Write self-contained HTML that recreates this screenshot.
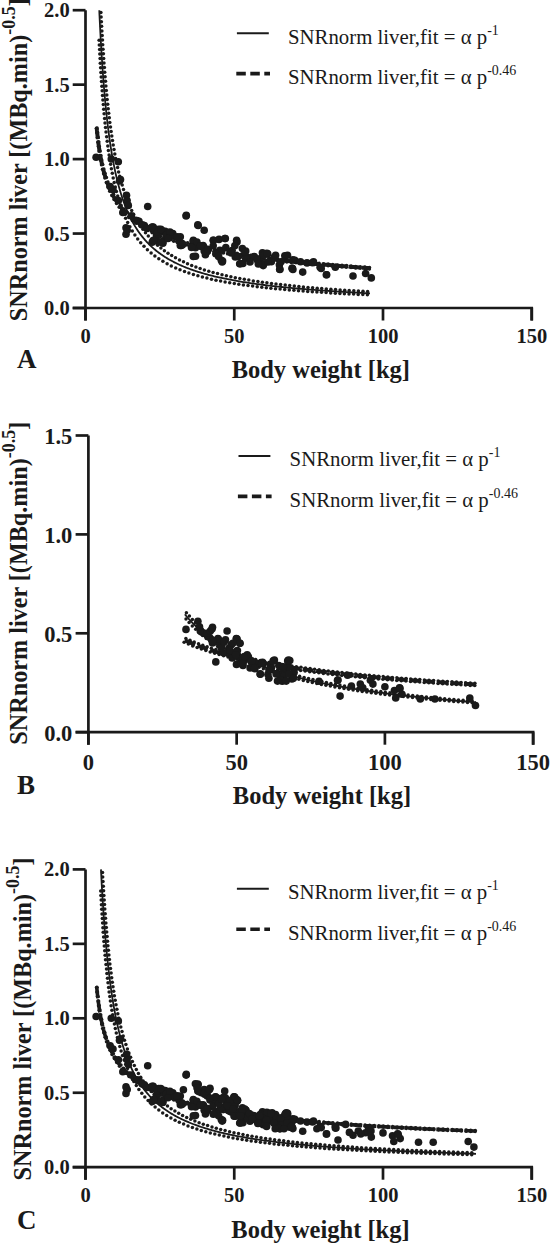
<!DOCTYPE html>
<html><head><meta charset="utf-8"><style>
html,body{margin:0;padding:0;background:#fff;}
body{width:554px;height:1244px;overflow:hidden;}
svg{display:block;}
text{font-family:"Liberation Serif", serif;fill:#1a1a1a;}
.tk{font-size:20.5px;font-weight:bold;}
.al{font-size:24.5px;font-weight:bold;}
.yl{font-size:24.2px;font-weight:bold;}
.sup{font-size:18px;}
.pl{font-size:27px;font-weight:bold;}
.tkb{font-size:22.5px;font-weight:bold;}
.lg{font-size:20.8px;}
.lsup{font-size:14px;}
</style></head><body>
<svg width="554" height="1244" viewBox="0 0 554 1244">
<path d="M85.50 10.20V320.50M72.70 308.00H531.75V320.50" stroke="#1a1a1a" stroke-width="2.7" fill="none"/>
<path d="M72.70 308.00H85.50" stroke="#1a1a1a" stroke-width="2.7"/>
<text x="69.70" y="315.00" text-anchor="end" class="tk">0.0</text>
<path d="M72.70 233.55H85.50" stroke="#1a1a1a" stroke-width="2.7"/>
<text x="69.70" y="240.55" text-anchor="end" class="tk">0.5</text>
<path d="M72.70 159.10H85.50" stroke="#1a1a1a" stroke-width="2.7"/>
<text x="69.70" y="166.10" text-anchor="end" class="tk">1.0</text>
<path d="M72.70 84.65H85.50" stroke="#1a1a1a" stroke-width="2.7"/>
<text x="69.70" y="91.65" text-anchor="end" class="tk">1.5</text>
<path d="M72.70 10.20H85.50" stroke="#1a1a1a" stroke-width="2.7"/>
<text x="69.70" y="17.20" text-anchor="end" class="tk">2.0</text>
<path d="M85.50 308.00V320.50" stroke="#1a1a1a" stroke-width="2.7"/>
<text x="85.50" y="343.00" text-anchor="middle" class="tk">0</text>
<path d="M234.25 308.00V320.50" stroke="#1a1a1a" stroke-width="2.7"/>
<text x="234.25" y="343.00" text-anchor="middle" class="tk">50</text>
<path d="M383.00 308.00V320.50" stroke="#1a1a1a" stroke-width="2.7"/>
<text x="383.00" y="343.00" text-anchor="middle" class="tk">100</text>
<path d="M531.75 308.00V320.50" stroke="#1a1a1a" stroke-width="2.7"/>
<text x="531.75" y="343.00" text-anchor="middle" class="tk">150</text>
<text x="320.80" y="378.20" text-anchor="middle" class="al">Body weight [kg]</text>
<text x="17" y="368.00" class="pl">A</text>
<text transform="translate(26.50 321.20) rotate(-90)" class="yl">SNRnorm liver [(MBq.min)<tspan class="sup" dy="-11.5">-0.5</tspan><tspan dy="11.5">]</tspan></text>
<path d="M236.90 33.20H268.80" stroke="#1a1a1a" stroke-width="2"/>
<path d="M236.30 73.60H270.00" stroke="#1a1a1a" stroke-width="3.6" stroke-dasharray="9.5 4.5"/>
<text x="288.00" y="43.50" class="lg">SNRnorm liver,fit = α p<tspan class="lsup" dy="-9">-1</tspan></text>
<text x="288.00" y="83.90" class="lg">SNRnorm liver,fit = α p<tspan class="lsup" dy="-9">-0.46</tspan></text>
<g fill="#1a1a1a"><circle cx="100.9" cy="12.5" r="1.75"/><circle cx="101.1" cy="17.1" r="1.75"/><circle cx="101.4" cy="21.7" r="1.75"/><circle cx="101.6" cy="26.3" r="1.75"/><circle cx="101.9" cy="30.9" r="1.75"/><circle cx="102.2" cy="35.5" r="1.75"/><circle cx="102.5" cy="40.1" r="1.75"/><circle cx="99.1" cy="40.3" r="1.75"/><circle cx="102.7" cy="44.7" r="1.75"/><circle cx="99.3" cy="44.9" r="1.75"/><circle cx="103.0" cy="49.2" r="1.75"/><circle cx="99.6" cy="49.5" r="1.75"/><circle cx="103.4" cy="53.8" r="1.75"/><circle cx="99.8" cy="54.0" r="1.75"/><circle cx="103.7" cy="58.4" r="1.75"/><circle cx="100.1" cy="58.6" r="1.75"/><circle cx="104.0" cy="63.0" r="1.75"/><circle cx="100.3" cy="63.2" r="1.75"/><circle cx="104.4" cy="67.6" r="1.75"/><circle cx="100.6" cy="67.8" r="1.75"/><circle cx="104.7" cy="72.2" r="1.75"/><circle cx="100.9" cy="72.4" r="1.75"/><circle cx="105.1" cy="76.7" r="1.75"/><circle cx="101.2" cy="77.0" r="1.75"/><circle cx="105.5" cy="81.3" r="1.75"/><circle cx="101.5" cy="81.6" r="1.75"/><circle cx="105.9" cy="85.9" r="1.75"/><circle cx="101.9" cy="86.2" r="1.75"/><circle cx="106.3" cy="90.5" r="1.75"/><circle cx="102.2" cy="90.8" r="1.75"/><circle cx="106.8" cy="95.0" r="1.75"/><circle cx="102.5" cy="95.4" r="1.75"/><circle cx="107.2" cy="99.6" r="1.75"/><circle cx="102.9" cy="100.0" r="1.75"/><circle cx="107.7" cy="104.2" r="1.75"/><circle cx="103.3" cy="104.6" r="1.75"/><circle cx="108.2" cy="108.7" r="1.75"/><circle cx="103.7" cy="109.2" r="1.75"/><circle cx="108.7" cy="113.3" r="1.75"/><circle cx="104.1" cy="113.8" r="1.75"/><circle cx="109.3" cy="117.8" r="1.75"/><circle cx="104.6" cy="118.4" r="1.75"/><circle cx="109.8" cy="122.4" r="1.75"/><circle cx="105.0" cy="123.0" r="1.75"/><circle cx="110.5" cy="126.9" r="1.75"/><circle cx="105.5" cy="127.6" r="1.75"/><circle cx="111.1" cy="131.5" r="1.75"/><circle cx="106.0" cy="132.1" r="1.75"/><circle cx="111.8" cy="136.0" r="1.75"/><circle cx="106.6" cy="136.7" r="1.75"/><circle cx="112.5" cy="140.5" r="1.75"/><circle cx="107.2" cy="141.3" r="1.75"/><circle cx="113.2" cy="145.1" r="1.75"/><circle cx="107.8" cy="145.9" r="1.75"/><circle cx="114.0" cy="149.6" r="1.75"/><circle cx="108.4" cy="150.5" r="1.75"/><circle cx="114.8" cy="154.1" r="1.75"/><circle cx="109.1" cy="155.0" r="1.75"/><circle cx="115.7" cy="158.6" r="1.75"/><circle cx="109.8" cy="159.6" r="1.75"/><circle cx="116.6" cy="163.0" r="1.75"/><circle cx="110.6" cy="164.2" r="1.75"/><circle cx="117.6" cy="167.5" r="1.75"/><circle cx="111.4" cy="168.8" r="1.75"/><circle cx="118.6" cy="171.9" r="1.75"/><circle cx="112.3" cy="173.3" r="1.75"/><circle cx="119.7" cy="176.3" r="1.75"/><circle cx="113.2" cy="177.9" r="1.75"/><circle cx="120.9" cy="180.7" r="1.75"/><circle cx="114.2" cy="182.4" r="1.75"/><circle cx="122.2" cy="185.1" r="1.75"/><circle cx="115.3" cy="187.0" r="1.75"/><circle cx="123.5" cy="189.4" r="1.75"/><circle cx="116.4" cy="191.5" r="1.75"/><circle cx="124.9" cy="193.7" r="1.75"/><circle cx="117.7" cy="196.0" r="1.75"/><circle cx="126.5" cy="198.0" r="1.75"/><circle cx="119.0" cy="200.5" r="1.75"/><circle cx="128.1" cy="202.2" r="1.75"/><circle cx="120.5" cy="205.0" r="1.75"/><circle cx="129.8" cy="206.3" r="1.75"/><circle cx="122.0" cy="209.4" r="1.75"/><circle cx="131.7" cy="210.4" r="1.75"/><circle cx="123.8" cy="213.8" r="1.75"/><circle cx="133.6" cy="214.3" r="1.75"/><circle cx="125.6" cy="218.2" r="1.75"/><circle cx="135.8" cy="218.2" r="1.75"/><circle cx="127.7" cy="222.5" r="1.75"/><circle cx="138.0" cy="222.1" r="1.75"/><circle cx="129.9" cy="226.8" r="1.75"/><circle cx="140.4" cy="225.8" r="1.75"/><circle cx="132.3" cy="230.9" r="1.75"/><circle cx="142.9" cy="229.3" r="1.75"/><circle cx="134.9" cy="235.0" r="1.75"/><circle cx="145.5" cy="232.8" r="1.75"/><circle cx="137.7" cy="238.9" r="1.75"/><circle cx="148.3" cy="236.1" r="1.75"/><circle cx="140.7" cy="242.7" r="1.75"/><circle cx="151.3" cy="239.3" r="1.75"/><circle cx="144.0" cy="246.3" r="1.75"/><circle cx="154.4" cy="242.4" r="1.75"/><circle cx="147.4" cy="249.7" r="1.75"/><circle cx="157.6" cy="245.3" r="1.75"/><circle cx="151.1" cy="252.9" r="1.75"/><circle cx="160.9" cy="248.1" r="1.75"/><circle cx="154.9" cy="255.9" r="1.75"/><circle cx="164.4" cy="250.7" r="1.75"/><circle cx="158.8" cy="258.7" r="1.75"/><circle cx="168.0" cy="253.2" r="1.75"/><circle cx="162.9" cy="261.3" r="1.75"/><circle cx="171.7" cy="255.6" r="1.75"/><circle cx="167.1" cy="263.7" r="1.75"/><circle cx="175.5" cy="257.8" r="1.75"/><circle cx="171.3" cy="265.9" r="1.75"/><circle cx="179.5" cy="259.9" r="1.75"/><circle cx="175.7" cy="267.9" r="1.75"/><circle cx="183.5" cy="261.8" r="1.75"/><circle cx="180.0" cy="269.7" r="1.75"/><circle cx="187.5" cy="263.7" r="1.75"/><circle cx="184.5" cy="271.4" r="1.75"/><circle cx="191.7" cy="265.4" r="1.75"/><circle cx="188.9" cy="273.0" r="1.75"/><circle cx="195.9" cy="267.0" r="1.75"/><circle cx="193.4" cy="274.4" r="1.75"/><circle cx="200.1" cy="268.5" r="1.75"/><circle cx="197.9" cy="275.7" r="1.75"/><circle cx="204.4" cy="269.9" r="1.75"/><circle cx="202.4" cy="277.0" r="1.75"/><circle cx="208.8" cy="271.2" r="1.75"/><circle cx="206.9" cy="278.1" r="1.75"/><circle cx="213.1" cy="272.5" r="1.75"/><circle cx="211.5" cy="279.2" r="1.75"/><circle cx="217.5" cy="273.6" r="1.75"/><circle cx="216.0" cy="280.2" r="1.75"/><circle cx="222.0" cy="274.7" r="1.75"/><circle cx="220.6" cy="281.1" r="1.75"/><circle cx="226.4" cy="275.8" r="1.75"/><circle cx="225.1" cy="281.9" r="1.75"/><circle cx="230.9" cy="276.7" r="1.75"/><circle cx="229.7" cy="282.7" r="1.75"/><circle cx="235.3" cy="277.7" r="1.75"/><circle cx="234.3" cy="283.5" r="1.75"/><circle cx="239.8" cy="278.5" r="1.75"/><circle cx="238.8" cy="284.2" r="1.75"/><circle cx="244.3" cy="279.3" r="1.75"/><circle cx="243.4" cy="284.9" r="1.75"/><circle cx="248.8" cy="280.1" r="1.75"/><circle cx="248.0" cy="285.5" r="1.75"/><circle cx="253.3" cy="280.9" r="1.75"/><circle cx="252.6" cy="286.1" r="1.75"/><circle cx="257.9" cy="281.6" r="1.75"/><circle cx="257.2" cy="286.7" r="1.75"/><circle cx="262.4" cy="282.2" r="1.75"/><circle cx="261.8" cy="287.2" r="1.75"/><circle cx="266.9" cy="282.8" r="1.75"/><circle cx="266.3" cy="287.8" r="1.75"/><circle cx="271.5" cy="283.4" r="1.75"/><circle cx="270.9" cy="288.2" r="1.75"/><circle cx="276.0" cy="284.0" r="1.75"/><circle cx="275.5" cy="288.7" r="1.75"/><circle cx="280.6" cy="284.6" r="1.75"/><circle cx="280.1" cy="289.1" r="1.75"/><circle cx="285.2" cy="285.1" r="1.75"/><circle cx="284.7" cy="289.6" r="1.75"/><circle cx="289.7" cy="285.6" r="1.75"/><circle cx="289.3" cy="290.0" r="1.75"/><circle cx="294.3" cy="286.1" r="1.75"/><circle cx="293.9" cy="290.3" r="1.75"/><circle cx="298.9" cy="286.5" r="1.75"/><circle cx="298.5" cy="290.7" r="1.75"/><circle cx="303.4" cy="287.0" r="1.75"/><circle cx="303.1" cy="291.1" r="1.75"/><circle cx="308.0" cy="287.4" r="1.75"/><circle cx="307.7" cy="291.4" r="1.75"/><circle cx="312.6" cy="287.8" r="1.75"/><circle cx="312.3" cy="291.7" r="1.75"/><circle cx="317.2" cy="288.2" r="1.75"/><circle cx="316.9" cy="292.0" r="1.75"/><circle cx="321.7" cy="288.5" r="1.75"/><circle cx="321.5" cy="292.3" r="1.75"/><circle cx="326.3" cy="288.9" r="1.75"/><circle cx="326.1" cy="292.6" r="1.75"/><circle cx="330.9" cy="289.2" r="1.75"/><circle cx="330.7" cy="292.9" r="1.75"/><circle cx="335.5" cy="289.6" r="1.75"/><circle cx="335.3" cy="293.2" r="1.75"/><circle cx="340.1" cy="289.9" r="1.75"/><circle cx="339.9" cy="293.4" r="1.75"/><circle cx="344.7" cy="290.2" r="1.75"/><circle cx="344.4" cy="293.7" r="1.75"/><circle cx="349.2" cy="290.5" r="1.75"/><circle cx="349.0" cy="293.9" r="1.75"/><circle cx="353.8" cy="290.8" r="1.75"/><circle cx="353.6" cy="294.1" r="1.75"/><circle cx="358.4" cy="291.1" r="1.75"/><circle cx="358.2" cy="294.4" r="1.75"/><circle cx="363.0" cy="291.3" r="1.75"/><circle cx="362.8" cy="294.6" r="1.75"/><circle cx="367.6" cy="291.6" r="1.75"/><circle cx="367.4" cy="294.8" r="1.75"/></g>
<path d="M99.27 10.20L99.32 11.21L99.52 15.63L99.73 20.05L99.95 24.45L100.17 28.84L100.40 33.21L100.63 37.56L100.87 41.88L101.12 46.17L101.37 50.42L101.63 54.63L101.89 58.80L102.17 62.93L102.44 67.01L102.73 71.04L103.01 75.03L103.31 78.95L103.61 82.83L103.92 86.65L104.23 90.42L104.55 94.12L104.88 97.77L105.21 101.37L105.55 104.90L105.89 108.37L106.24 111.79L106.60 115.15L106.96 118.45L107.33 121.69L107.70 124.87L108.08 127.99L108.47 131.06L108.86 134.06L109.26 137.02L109.67 139.91L110.08 142.75L110.49 145.54L110.92 148.27L111.35 150.95L111.78 153.57L112.22 156.15L112.67 158.67L113.12 161.14L113.58 163.57L114.05 165.94L114.52 168.27L115.00 170.55L115.48 172.78L115.97 174.97L116.47 177.12L116.97 179.22L117.48 181.28L118.00 183.30L118.52 185.27L119.04 187.21L119.58 189.11L120.12 190.97L120.66 192.79L121.21 194.58L121.77 196.32L122.33 198.04L122.90 199.72L123.48 201.36L124.06 202.98L124.65 204.56L125.24 206.11L125.84 207.63L126.44 209.11L127.06 210.57L127.67 212.00L128.30 213.41L128.93 214.78L129.56 216.13L130.21 217.45L130.86 218.74L131.51 220.01L132.17 221.26L132.84 222.48L133.51 223.68L134.19 224.85L134.87 226.01L135.57 227.14L136.26 228.25L136.97 229.34L137.68 230.40L138.39 231.45L139.11 232.48L139.84 233.49L140.57 234.48L141.31 235.45L142.06 236.41L142.81 237.34L143.57 238.26L144.33 239.16L145.10 240.05L145.88 240.92L146.66 241.78L147.45 242.62L148.25 243.44L149.05 244.25L149.85 245.04L150.67 245.83L151.49 246.59L152.31 247.35L153.14 248.09L153.98 248.82L154.82 249.53L155.67 250.24L156.53 250.93L157.39 251.61L158.26 252.28L159.13 252.93L160.01 253.58L160.90 254.21L161.79 254.84L162.69 255.45L163.59 256.06L164.50 256.65L165.42 257.23L166.34 257.81L167.27 258.37L168.20 258.93L169.14 259.48L170.09 260.01L171.04 260.54L172.00 261.06L172.97 261.58L173.94 262.08L174.92 262.58L175.90 263.07L176.89 263.55L177.88 264.02L178.89 264.49L179.89 264.95L180.91 265.40L181.93 265.85L182.95 266.28L183.98 266.72L185.02 267.14L186.07 267.56L187.12 267.97L188.17 268.38L189.24 268.78L190.30 269.18L191.38 269.56L192.46 269.95L193.55 270.33L194.64 270.70L195.74 271.06L196.84 271.43L197.96 271.78L199.07 272.13L200.20 272.48L201.33 272.82L202.46 273.16L203.60 273.49L204.75 273.81L205.90 274.14L207.06 274.45L208.23 274.77L209.40 275.08L210.58 275.38L211.77 275.68L212.96 275.98L214.15 276.27L215.35 276.56L216.56 276.85L217.78 277.13L219.00 277.40L220.23 277.68L221.46 277.95L222.70 278.21L223.94 278.48L225.19 278.74L226.45 278.99L227.71 279.24L228.98 279.49L230.26 279.74L231.54 279.98L232.83 280.22L234.12 280.46L235.42 280.69L236.73 280.92L238.04 281.15L239.36 281.38L240.68 281.60L242.01 281.82L243.35 282.03L244.69 282.25L246.04 282.46L247.40 282.67L248.76 282.88L250.12 283.08L251.50 283.28L252.88 283.48L254.26 283.68L255.65 283.87L257.05 284.06L258.45 284.25L259.86 284.44L261.28 284.62L262.70 284.81L264.13 284.99L265.56 285.16L267.00 285.34L268.45 285.52L269.90 285.69L271.36 285.86L272.82 286.03L274.29 286.19L275.77 286.36L277.25 286.52L278.74 286.68L280.24 286.84L281.74 287.00L283.25 287.15L284.76 287.31L286.28 287.46L287.80 287.61L289.33 287.76L290.87 287.90L292.42 288.05L293.96 288.19L295.52 288.34L297.08 288.48L298.65 288.62L300.22 288.75L301.80 288.89L303.39 289.02L304.98 289.16L306.58 289.29L308.19 289.42L309.80 289.55L311.41 289.68L313.04 289.80L314.66 289.93L316.30 290.05L317.94 290.17L319.59 290.29L321.24 290.41L322.90 290.53L324.56 290.65L326.24 290.77L327.91 290.88L329.60 290.99L331.29 291.11L332.98 291.22L334.68 291.33L336.39 291.44L338.11 291.55L339.83 291.65L341.55 291.76L343.28 291.86L345.02 291.97L346.77 292.07L348.52 292.17L350.28 292.27L352.04 292.37L353.81 292.47L355.58 292.57L357.36 292.67L359.15 292.76L360.94 292.86L362.74 292.95L364.55 293.05L366.36 293.14L368.18 293.23L370.00 293.32" stroke="#1a1a1a" stroke-width="1.8" fill="none"/>
<g fill="#1a1a1a"><circle cx="97.1" cy="128.1" r="1.75"/><circle cx="96.4" cy="128.2" r="1.75"/><circle cx="97.6" cy="132.7" r="1.75"/><circle cx="96.8" cy="132.8" r="1.75"/><circle cx="98.1" cy="137.3" r="1.75"/><circle cx="97.3" cy="137.4" r="1.75"/><circle cx="98.7" cy="141.8" r="1.75"/><circle cx="97.8" cy="141.9" r="1.75"/><circle cx="99.3" cy="146.4" r="1.75"/><circle cx="98.4" cy="146.5" r="1.75"/><circle cx="100.0" cy="150.9" r="1.75"/><circle cx="99.1" cy="151.1" r="1.75"/><circle cx="100.8" cy="155.4" r="1.75"/><circle cx="99.8" cy="155.6" r="1.75"/><circle cx="101.7" cy="159.9" r="1.75"/><circle cx="100.6" cy="160.2" r="1.75"/><circle cx="102.7" cy="164.4" r="1.75"/><circle cx="101.5" cy="164.7" r="1.75"/><circle cx="103.8" cy="168.9" r="1.75"/><circle cx="102.5" cy="169.2" r="1.75"/><circle cx="105.0" cy="173.3" r="1.75"/><circle cx="103.6" cy="173.7" r="1.75"/><circle cx="106.4" cy="177.6" r="1.75"/><circle cx="104.9" cy="178.1" r="1.75"/><circle cx="107.9" cy="181.9" r="1.75"/><circle cx="106.3" cy="182.5" r="1.75"/><circle cx="109.6" cy="186.2" r="1.75"/><circle cx="107.9" cy="186.9" r="1.75"/><circle cx="111.5" cy="190.3" r="1.75"/><circle cx="109.7" cy="191.2" r="1.75"/><circle cx="113.6" cy="194.3" r="1.75"/><circle cx="111.8" cy="195.4" r="1.75"/><circle cx="115.9" cy="198.3" r="1.75"/><circle cx="114.0" cy="199.4" r="1.75"/><circle cx="118.5" cy="202.0" r="1.75"/><circle cx="116.5" cy="203.4" r="1.75"/><circle cx="121.2" cy="205.6" r="1.75"/><circle cx="119.2" cy="207.2" r="1.75"/><circle cx="124.1" cy="209.1" r="1.75"/><circle cx="122.2" cy="210.8" r="1.75"/><circle cx="127.3" cy="212.3" r="1.75"/><circle cx="125.4" cy="214.2" r="1.75"/><circle cx="130.6" cy="215.4" r="1.75"/><circle cx="128.8" cy="217.5" r="1.75"/><circle cx="134.1" cy="218.3" r="1.75"/><circle cx="132.3" cy="220.5" r="1.75"/><circle cx="137.7" cy="221.0" r="1.75"/><circle cx="136.1" cy="223.3" r="1.75"/><circle cx="141.4" cy="223.5" r="1.75"/><circle cx="139.9" cy="225.9" r="1.75"/><circle cx="145.3" cy="225.9" r="1.75"/><circle cx="143.9" cy="228.3" r="1.75"/><circle cx="149.3" cy="228.1" r="1.75"/><circle cx="148.0" cy="230.6" r="1.75"/><circle cx="153.3" cy="230.2" r="1.75"/><circle cx="152.1" cy="232.7" r="1.75"/><circle cx="157.5" cy="232.1" r="1.75"/><circle cx="156.3" cy="234.6" r="1.75"/><circle cx="161.6" cy="233.9" r="1.75"/><circle cx="160.6" cy="236.4" r="1.75"/><circle cx="165.9" cy="235.6" r="1.75"/><circle cx="164.9" cy="238.1" r="1.75"/><circle cx="170.2" cy="237.2" r="1.75"/><circle cx="169.3" cy="239.7" r="1.75"/><circle cx="174.5" cy="238.7" r="1.75"/><circle cx="173.7" cy="241.2" r="1.75"/><circle cx="178.8" cy="240.2" r="1.75"/><circle cx="178.1" cy="242.6" r="1.75"/><circle cx="183.2" cy="241.5" r="1.75"/><circle cx="182.5" cy="243.9" r="1.75"/><circle cx="187.6" cy="242.8" r="1.75"/><circle cx="187.0" cy="245.1" r="1.75"/><circle cx="192.0" cy="244.0" r="1.75"/><circle cx="191.4" cy="246.3" r="1.75"/><circle cx="196.5" cy="245.1" r="1.75"/><circle cx="195.9" cy="247.4" r="1.75"/><circle cx="200.9" cy="246.2" r="1.75"/><circle cx="200.4" cy="248.5" r="1.75"/><circle cx="205.4" cy="247.2" r="1.75"/><circle cx="204.9" cy="249.5" r="1.75"/><circle cx="209.9" cy="248.2" r="1.75"/><circle cx="209.4" cy="250.4" r="1.75"/><circle cx="214.4" cy="249.1" r="1.75"/><circle cx="213.9" cy="251.3" r="1.75"/><circle cx="218.9" cy="250.0" r="1.75"/><circle cx="218.5" cy="252.2" r="1.75"/><circle cx="223.4" cy="250.9" r="1.75"/><circle cx="223.0" cy="253.0" r="1.75"/><circle cx="227.9" cy="251.7" r="1.75"/><circle cx="227.5" cy="253.8" r="1.75"/><circle cx="232.4" cy="252.5" r="1.75"/><circle cx="232.1" cy="254.6" r="1.75"/><circle cx="237.0" cy="253.2" r="1.75"/><circle cx="236.6" cy="255.3" r="1.75"/><circle cx="241.5" cy="254.0" r="1.75"/><circle cx="241.2" cy="256.0" r="1.75"/><circle cx="246.0" cy="254.7" r="1.75"/><circle cx="245.7" cy="256.7" r="1.75"/><circle cx="250.6" cy="255.3" r="1.75"/><circle cx="250.3" cy="257.4" r="1.75"/><circle cx="255.1" cy="256.0" r="1.75"/><circle cx="254.8" cy="258.0" r="1.75"/><circle cx="259.7" cy="256.6" r="1.75"/><circle cx="259.4" cy="258.6" r="1.75"/><circle cx="264.2" cy="257.2" r="1.75"/><circle cx="264.0" cy="259.2" r="1.75"/><circle cx="268.8" cy="257.8" r="1.75"/><circle cx="268.5" cy="259.8" r="1.75"/><circle cx="273.4" cy="258.4" r="1.75"/><circle cx="273.1" cy="260.3" r="1.75"/><circle cx="277.9" cy="259.0" r="1.75"/><circle cx="277.7" cy="260.9" r="1.75"/><circle cx="282.5" cy="259.5" r="1.75"/><circle cx="282.3" cy="261.4" r="1.75"/><circle cx="287.0" cy="260.0" r="1.75"/><circle cx="286.8" cy="261.9" r="1.75"/><circle cx="291.6" cy="260.5" r="1.75"/><circle cx="291.4" cy="262.4" r="1.75"/><circle cx="296.2" cy="261.0" r="1.75"/><circle cx="296.0" cy="262.8" r="1.75"/><circle cx="300.8" cy="261.5" r="1.75"/><circle cx="300.6" cy="263.3" r="1.75"/><circle cx="305.3" cy="262.0" r="1.75"/><circle cx="305.2" cy="263.7" r="1.75"/><circle cx="309.9" cy="262.4" r="1.75"/><circle cx="309.7" cy="264.2" r="1.75"/><circle cx="314.5" cy="262.8" r="1.75"/><circle cx="314.3" cy="264.6" r="1.75"/><circle cx="319.1" cy="263.3" r="1.75"/><circle cx="318.9" cy="265.0" r="1.75"/><circle cx="323.6" cy="263.7" r="1.75"/><circle cx="323.5" cy="265.4" r="1.75"/><circle cx="328.2" cy="264.1" r="1.75"/><circle cx="328.1" cy="265.8" r="1.75"/><circle cx="332.8" cy="264.5" r="1.75"/><circle cx="332.7" cy="266.2" r="1.75"/><circle cx="337.4" cy="264.9" r="1.75"/><circle cx="337.2" cy="266.6" r="1.75"/><circle cx="342.0" cy="265.3" r="1.75"/><circle cx="341.8" cy="266.9" r="1.75"/><circle cx="346.6" cy="265.6" r="1.75"/><circle cx="346.4" cy="267.3" r="1.75"/><circle cx="351.1" cy="266.0" r="1.75"/><circle cx="351.0" cy="267.6" r="1.75"/><circle cx="355.7" cy="266.4" r="1.75"/><circle cx="355.6" cy="268.0" r="1.75"/><circle cx="360.3" cy="266.7" r="1.75"/><circle cx="360.2" cy="268.3" r="1.75"/><circle cx="364.9" cy="267.0" r="1.75"/><circle cx="364.8" cy="268.6" r="1.75"/><circle cx="369.5" cy="267.4" r="1.75"/><circle cx="369.4" cy="269.0" r="1.75"/></g>
<path d="M96.75 128.17L96.75 128.20L96.76 128.30L96.78 128.46L96.80 128.69L96.83 128.98L96.86 129.33L96.90 129.74L96.94 130.21L97.00 130.74L97.05 131.32L97.12 131.95L97.19 132.64L97.26 133.37L97.35 134.15L97.43 134.97L97.53 135.83L97.63 136.73L97.73 137.66L97.85 138.63L97.96 139.63L98.09 140.65L98.22 141.69L98.36 142.76L98.50 143.85L98.65 144.96L98.80 146.08L98.96 147.21L99.13 148.36L99.30 149.51L99.48 150.68L99.67 151.84L99.86 153.02L100.06 154.19L100.26 155.37L100.47 156.54L100.68 157.72L100.91 158.89L101.13 160.06L101.37 161.22L101.61 162.38L101.85 163.54L102.11 164.69L102.36 165.83L102.63 166.96L102.90 168.08L103.17 169.20L103.46 170.30L103.75 171.40L104.04 172.48L104.34 173.56L104.65 174.63L104.96 175.68L105.28 176.73L105.60 177.76L105.93 178.78L106.27 179.79L106.61 180.79L106.96 181.78L107.32 182.76L107.68 183.72L108.05 184.68L108.42 185.62L108.80 186.55L109.19 187.47L109.58 188.38L109.98 189.28L110.38 190.17L110.79 191.05L111.20 191.91L111.63 192.77L112.06 193.61L112.49 194.45L112.93 195.27L113.38 196.09L113.83 196.89L114.29 197.68L114.75 198.47L115.22 199.24L115.70 200.00L116.18 200.76L116.67 201.50L117.16 202.24L117.67 202.97L118.17 203.69L118.69 204.39L119.21 205.10L119.73 205.79L120.26 206.47L120.80 207.15L121.34 207.81L121.89 208.47L122.45 209.12L123.01 209.77L123.58 210.40L124.15 211.03L124.73 211.65L125.32 212.26L125.91 212.87L126.51 213.47L127.11 214.06L127.72 214.64L128.34 215.22L128.96 215.79L129.59 216.36L130.22 216.92L130.86 217.47L131.51 218.02L132.16 218.56L132.82 219.09L133.49 219.62L134.16 220.14L134.83 220.65L135.52 221.17L136.21 221.67L136.90 222.17L137.60 222.66L138.31 223.15L139.02 223.64L139.74 224.11L140.47 224.59L141.20 225.05L141.94 225.52L142.68 225.98L143.43 226.43L144.19 226.88L144.95 227.32L145.72 227.76L146.49 228.20L147.27 228.63L148.06 229.05L148.85 229.48L149.65 229.89L150.46 230.31L151.27 230.72L152.08 231.12L152.91 231.52L153.73 231.92L154.57 232.32L155.41 232.71L156.26 233.09L157.11 233.47L157.97 233.85L158.84 234.23L159.71 234.60L160.58 234.97L161.47 235.33L162.36 235.69L163.25 236.05L164.15 236.41L165.06 236.76L165.98 237.11L166.90 237.45L167.82 237.79L168.75 238.13L169.69 238.47L170.64 238.80L171.59 239.13L172.54 239.46L173.51 239.78L174.47 240.11L175.45 240.42L176.43 240.74L177.42 241.05L178.41 241.36L179.41 241.67L180.41 241.98L181.42 242.28L182.44 242.58L183.46 242.88L184.49 243.17L185.53 243.47L186.57 243.76L187.62 244.04L188.67 244.33L189.73 244.61L190.80 244.89L191.87 245.17L192.95 245.45L194.03 245.72L195.12 246.00L196.22 246.27L197.32 246.53L198.43 246.80L199.54 247.06L200.66 247.33L201.79 247.58L202.92 247.84L204.06 248.10L205.20 248.35L206.35 248.60L207.51 248.85L208.67 249.10L209.84 249.35L211.02 249.59L212.20 249.83L213.39 250.08L214.58 250.31L215.78 250.55L216.98 250.79L218.19 251.02L219.41 251.25L220.64 251.48L221.87 251.71L223.10 251.94L224.34 252.16L225.59 252.39L226.84 252.61L228.10 252.83L229.37 253.05L230.64 253.27L231.92 253.49L233.20 253.70L234.50 253.91L235.79 254.13L237.09 254.34L238.40 254.54L239.72 254.75L241.04 254.96L242.36 255.16L243.70 255.37L245.04 255.57L246.38 255.77L247.73 255.97L249.09 256.17L250.45 256.36L251.82 256.56L253.20 256.75L254.58 256.95L255.97 257.14L257.36 257.33L258.76 257.52L260.17 257.70L261.58 257.89L263.00 258.08L264.42 258.26L265.85 258.44L267.29 258.63L268.73 258.81L270.18 258.99L271.63 259.17L273.09 259.34L274.56 259.52L276.03 259.70L277.51 259.87L278.99 260.04L280.48 260.22L281.98 260.39L283.48 260.56L284.99 260.73L286.51 260.90L288.03 261.06L289.56 261.23L291.09 261.39L292.63 261.56L294.17 261.72L295.72 261.88L297.28 262.05L298.85 262.21L300.42 262.37L301.99 262.52L303.57 262.68L305.16 262.84L306.75 262.99L308.35 263.15L309.96 263.30L311.57 263.46L313.19 263.61L314.82 263.76L316.45 263.91L318.08 264.06L319.73 264.21L321.37 264.36L323.03 264.51L324.69 264.65L326.36 264.80L328.03 264.94L329.71 265.09L331.39 265.23L333.08 265.37L334.78 265.52L336.48 265.66L338.19 265.80L339.91 265.94L341.63 266.08L343.36 266.22L345.09 266.35L346.83 266.49L348.58 266.63L350.33 266.76L352.09 266.90L353.85 267.03L355.62 267.16L357.40 267.29L359.18 267.43L360.97 267.56L362.76 267.69L364.56 267.82L366.37 267.95L368.18 268.08L370.00 268.20" stroke="#1a1a1a" stroke-width="4.0" stroke-dasharray="11 2.5" fill="none"/>
<g fill="#1a1a1a"><circle cx="96.1" cy="157.3" r="3.8"/><circle cx="111.3" cy="159.0" r="3.8"/><circle cx="118.3" cy="161.7" r="3.8"/><circle cx="120.5" cy="179.5" r="3.8"/><circle cx="126.5" cy="195.2" r="3.8"/><circle cx="127.1" cy="200.6" r="3.8"/><circle cx="126.0" cy="227.7" r="3.8"/><circle cx="126.0" cy="234.2" r="3.8"/><circle cx="122.8" cy="212.5" r="3.8"/><circle cx="118.4" cy="200.6" r="3.8"/><circle cx="113.0" cy="189.8" r="3.8"/><circle cx="119.5" cy="181.0" r="3.8"/><circle cx="139.0" cy="221.2" r="3.8"/><circle cx="144.4" cy="225.5" r="3.8"/><circle cx="154.2" cy="228.8" r="3.8"/><circle cx="131.4" cy="215.8" r="3.8"/><circle cx="147.7" cy="206.5" r="3.8"/><circle cx="110.2" cy="186.6" r="3.8"/><circle cx="186.3" cy="215.2" r="3.8"/><circle cx="198.2" cy="225.5" r="3.8"/><circle cx="204.2" cy="230.3" r="3.8"/><circle cx="152.2" cy="227.0" r="3.8"/><circle cx="158.7" cy="229.3" r="3.8"/><circle cx="165.2" cy="231.4" r="3.8"/><circle cx="172.8" cy="233.6" r="3.8"/><circle cx="180.3" cy="236.8" r="3.8"/><circle cx="156.5" cy="235.8" r="3.8"/><circle cx="163.0" cy="241.2" r="3.8"/><circle cx="152.2" cy="242.3" r="3.8"/><circle cx="180.3" cy="245.5" r="3.8"/><circle cx="193.3" cy="241.2" r="3.8"/><circle cx="195.5" cy="247.7" r="3.8"/><circle cx="203.1" cy="245.5" r="3.8"/><circle cx="207.4" cy="250.9" r="3.8"/><circle cx="195.5" cy="256.3" r="3.8"/><circle cx="213.5" cy="240.3" r="3.8"/><circle cx="219.0" cy="239.4" r="3.8"/><circle cx="225.3" cy="238.5" r="3.8"/><circle cx="237.0" cy="242.1" r="3.8"/><circle cx="203.6" cy="246.7" r="3.8"/><circle cx="205.4" cy="254.8" r="3.8"/><circle cx="219.9" cy="250.3" r="3.8"/><circle cx="222.6" cy="261.1" r="3.8"/><circle cx="231.6" cy="252.1" r="3.8"/><circle cx="242.4" cy="248.5" r="3.8"/><circle cx="239.7" cy="263.8" r="3.8"/><circle cx="246.9" cy="257.5" r="3.8"/><circle cx="254.2" cy="256.6" r="3.8"/><circle cx="259.6" cy="260.2" r="3.8"/><circle cx="263.2" cy="265.6" r="3.8"/><circle cx="267.7" cy="253.9" r="3.8"/><circle cx="274.0" cy="257.5" r="3.8"/><circle cx="279.4" cy="264.7" r="3.8"/><circle cx="284.8" cy="255.7" r="3.8"/><circle cx="292.1" cy="268.3" r="3.8"/><circle cx="294.8" cy="260.2" r="3.8"/><circle cx="215.8" cy="253.8" r="3.8"/><circle cx="207.2" cy="251.6" r="3.8"/><circle cx="232.1" cy="250.5" r="3.8"/><circle cx="235.3" cy="257.0" r="3.8"/><circle cx="221.3" cy="260.3" r="3.8"/><circle cx="253.8" cy="257.0" r="3.8"/><circle cx="262.4" cy="252.7" r="3.8"/><circle cx="242.9" cy="263.5" r="3.8"/><circle cx="257.2" cy="259.7" r="3.8"/><circle cx="263.7" cy="255.3" r="3.8"/><circle cx="266.9" cy="253.2" r="3.8"/><circle cx="263.7" cy="264.0" r="3.8"/><circle cx="271.3" cy="261.8" r="3.8"/><circle cx="275.6" cy="255.3" r="3.8"/><circle cx="258.3" cy="264.0" r="3.8"/><circle cx="287.5" cy="255.3" r="3.8"/><circle cx="281.0" cy="261.8" r="3.8"/><circle cx="279.9" cy="269.4" r="3.8"/><circle cx="292.9" cy="269.4" r="3.8"/><circle cx="302.7" cy="272.1" r="3.8"/><circle cx="292.9" cy="259.7" r="3.8"/><circle cx="300.5" cy="261.8" r="3.8"/><circle cx="307.0" cy="262.9" r="3.8"/><circle cx="313.5" cy="261.8" r="3.8"/><circle cx="320.1" cy="267.2" r="3.8"/><circle cx="326.4" cy="274.8" r="3.8"/><circle cx="335.3" cy="267.2" r="3.8"/><circle cx="353.0" cy="276.0" r="3.8"/><circle cx="365.6" cy="273.5" r="3.8"/><circle cx="371.3" cy="277.9" r="3.8"/><circle cx="312.5" cy="262.8" r="3.8"/><circle cx="136.9" cy="220.6" r="3.8"/><circle cx="142.3" cy="224.9" r="3.8"/><circle cx="146.7" cy="228.2" r="3.8"/><circle cx="153.2" cy="227.1" r="3.8"/><circle cx="157.5" cy="231.4" r="3.8"/><circle cx="161.8" cy="230.3" r="3.8"/><circle cx="166.2" cy="234.7" r="3.8"/><circle cx="171.6" cy="235.8" r="3.8"/><circle cx="179.2" cy="241.2" r="3.8"/><circle cx="181.3" cy="245.5" r="3.8"/><circle cx="157.5" cy="241.2" r="3.8"/><circle cx="162.9" cy="243.3" r="3.8"/><circle cx="127.2" cy="230.3" r="3.8"/><circle cx="128.3" cy="205.4" r="3.8"/><circle cx="186.1" cy="215.9" r="3.8"/><circle cx="197.8" cy="224.9" r="3.8"/><circle cx="151.8" cy="227.6" r="3.8"/><circle cx="160.8" cy="229.4" r="3.8"/><circle cx="169.9" cy="232.1" r="3.8"/><circle cx="177.1" cy="236.7" r="3.8"/><circle cx="193.3" cy="240.3" r="3.8"/><circle cx="196.9" cy="242.1" r="3.8"/><circle cx="213.2" cy="240.3" r="3.8"/><circle cx="224.9" cy="238.5" r="3.8"/><circle cx="236.6" cy="240.3" r="3.8"/><circle cx="193.3" cy="256.5" r="3.8"/><circle cx="204.2" cy="251.1" r="3.8"/><circle cx="218.6" cy="256.5" r="3.8"/><circle cx="222.2" cy="261.9" r="3.8"/><circle cx="238.4" cy="256.5" r="3.8"/><circle cx="240.3" cy="263.7" r="3.8"/><circle cx="245.7" cy="251.1" r="3.8"/><circle cx="160.8" cy="242.1" r="3.8"/><circle cx="168.0" cy="238.5" r="3.8"/><circle cx="153.6" cy="240.3" r="3.8"/><circle cx="182.5" cy="244.8" r="3.8"/><circle cx="191.5" cy="247.5" r="3.8"/><circle cx="200.5" cy="245.7" r="3.8"/><circle cx="207.8" cy="249.3" r="3.8"/><circle cx="213.2" cy="245.7" r="3.8"/><circle cx="225.8" cy="247.5" r="3.8"/><circle cx="231.2" cy="252.9" r="3.8"/><circle cx="234.8" cy="245.7" r="3.8"/><circle cx="245.7" cy="258.3" r="3.8"/><circle cx="279.7" cy="269.3" r="3.8"/><circle cx="292.3" cy="268.4" r="3.8"/><circle cx="321.2" cy="268.4" r="3.8"/><circle cx="326.6" cy="274.7" r="3.8"/><circle cx="250.0" cy="262.0" r="3.8"/><circle cx="268.0" cy="262.0" r="3.8"/><circle cx="245.0" cy="252.0" r="3.8"/></g>
<path d="M88.40 435.50V744.70M75.60 732.20H533.15V744.70" stroke="#1a1a1a" stroke-width="2.7" fill="none"/>
<path d="M75.60 732.20H88.40" stroke="#1a1a1a" stroke-width="2.7"/>
<text x="72.30" y="740.50" text-anchor="end" class="tkb">0.0</text>
<path d="M75.60 633.30H88.40" stroke="#1a1a1a" stroke-width="2.7"/>
<text x="72.30" y="641.60" text-anchor="end" class="tkb">0.5</text>
<path d="M75.60 534.40H88.40" stroke="#1a1a1a" stroke-width="2.7"/>
<text x="72.30" y="542.70" text-anchor="end" class="tkb">1.0</text>
<path d="M75.60 435.50H88.40" stroke="#1a1a1a" stroke-width="2.7"/>
<text x="72.30" y="443.80" text-anchor="end" class="tkb">1.5</text>
<path d="M88.40 732.20V744.70" stroke="#1a1a1a" stroke-width="2.7"/>
<text x="88.40" y="769.70" text-anchor="middle" class="tkb">0</text>
<path d="M236.65 732.20V744.70" stroke="#1a1a1a" stroke-width="2.7"/>
<text x="236.65" y="769.70" text-anchor="middle" class="tkb">50</text>
<path d="M384.90 732.20V744.70" stroke="#1a1a1a" stroke-width="2.7"/>
<text x="384.90" y="769.70" text-anchor="middle" class="tkb">100</text>
<path d="M533.15 732.20V744.70" stroke="#1a1a1a" stroke-width="2.7"/>
<text x="533.15" y="769.70" text-anchor="middle" class="tkb">150</text>
<text x="322.00" y="803.80" text-anchor="middle" class="al">Body weight [kg]</text>
<text x="17" y="794.40" class="pl">B</text>
<text transform="translate(26.50 744.70) rotate(-90)" class="yl">SNRnorm liver [(MBq.min)<tspan class="sup" dy="-11.5">-0.5</tspan><tspan dy="11.5">]</tspan></text>
<path d="M238.50 456.00H270.40" stroke="#1a1a1a" stroke-width="2"/>
<path d="M237.90 496.40H271.60" stroke="#1a1a1a" stroke-width="3.6" stroke-dasharray="9.5 4.5"/>
<text x="289.60" y="466.30" class="lg">SNRnorm liver,fit = α p<tspan class="lsup" dy="-9">-1</tspan></text>
<text x="289.60" y="506.70" class="lg">SNRnorm liver,fit = α p<tspan class="lsup" dy="-9">-0.46</tspan></text>
<g fill="#1a1a1a"><circle cx="186.4" cy="612.7" r="1.75"/><circle cx="189.4" cy="616.1" r="1.75"/><circle cx="186.0" cy="619.1" r="1.75"/><circle cx="192.4" cy="619.5" r="1.75"/><circle cx="189.1" cy="622.6" r="1.75"/><circle cx="195.5" cy="622.8" r="1.75"/><circle cx="192.3" cy="625.9" r="1.75"/><circle cx="198.8" cy="626.0" r="1.75"/><circle cx="195.7" cy="629.2" r="1.75"/><circle cx="202.1" cy="629.0" r="1.75"/><circle cx="199.1" cy="632.4" r="1.75"/><circle cx="205.5" cy="632.0" r="1.75"/><circle cx="202.6" cy="635.4" r="1.75"/><circle cx="209.0" cy="634.9" r="1.75"/><circle cx="206.2" cy="638.4" r="1.75"/><circle cx="212.6" cy="637.7" r="1.75"/><circle cx="209.9" cy="641.2" r="1.75"/><circle cx="216.2" cy="640.4" r="1.75"/><circle cx="213.7" cy="643.9" r="1.75"/><circle cx="220.0" cy="642.9" r="1.75"/><circle cx="217.6" cy="646.6" r="1.75"/><circle cx="223.8" cy="645.4" r="1.75"/><circle cx="221.5" cy="649.1" r="1.75"/><circle cx="227.6" cy="647.8" r="1.75"/><circle cx="225.5" cy="651.5" r="1.75"/><circle cx="231.6" cy="650.1" r="1.75"/><circle cx="229.5" cy="653.7" r="1.75"/><circle cx="235.5" cy="652.3" r="1.75"/><circle cx="233.6" cy="655.9" r="1.75"/><circle cx="239.6" cy="654.4" r="1.75"/><circle cx="237.8" cy="658.0" r="1.75"/><circle cx="243.7" cy="656.5" r="1.75"/><circle cx="242.0" cy="660.0" r="1.75"/><circle cx="247.8" cy="658.4" r="1.75"/><circle cx="246.2" cy="661.9" r="1.75"/><circle cx="252.0" cy="660.3" r="1.75"/><circle cx="250.5" cy="663.8" r="1.75"/><circle cx="256.2" cy="662.0" r="1.75"/><circle cx="254.8" cy="665.5" r="1.75"/><circle cx="260.4" cy="663.7" r="1.75"/><circle cx="259.1" cy="667.2" r="1.75"/><circle cx="264.7" cy="665.4" r="1.75"/><circle cx="263.4" cy="668.8" r="1.75"/><circle cx="269.0" cy="667.0" r="1.75"/><circle cx="267.8" cy="670.3" r="1.75"/><circle cx="273.3" cy="668.5" r="1.75"/><circle cx="272.2" cy="671.8" r="1.75"/><circle cx="277.6" cy="669.9" r="1.75"/><circle cx="276.6" cy="673.2" r="1.75"/><circle cx="282.0" cy="671.3" r="1.75"/><circle cx="281.0" cy="674.5" r="1.75"/><circle cx="286.4" cy="672.6" r="1.75"/><circle cx="285.5" cy="675.8" r="1.75"/><circle cx="290.8" cy="673.9" r="1.75"/><circle cx="289.9" cy="677.0" r="1.75"/><circle cx="295.2" cy="675.1" r="1.75"/><circle cx="294.4" cy="678.2" r="1.75"/><circle cx="299.6" cy="676.3" r="1.75"/><circle cx="298.8" cy="679.3" r="1.75"/><circle cx="304.1" cy="677.4" r="1.75"/><circle cx="303.3" cy="680.4" r="1.75"/><circle cx="308.5" cy="678.5" r="1.75"/><circle cx="307.8" cy="681.5" r="1.75"/><circle cx="313.0" cy="679.6" r="1.75"/><circle cx="312.3" cy="682.5" r="1.75"/><circle cx="317.4" cy="680.6" r="1.75"/><circle cx="316.8" cy="683.4" r="1.75"/><circle cx="321.9" cy="681.6" r="1.75"/><circle cx="321.4" cy="684.4" r="1.75"/><circle cx="326.4" cy="682.5" r="1.75"/><circle cx="325.9" cy="685.3" r="1.75"/><circle cx="330.9" cy="683.4" r="1.75"/><circle cx="330.4" cy="686.1" r="1.75"/><circle cx="335.4" cy="684.3" r="1.75"/><circle cx="334.9" cy="686.9" r="1.75"/><circle cx="339.9" cy="685.1" r="1.75"/><circle cx="339.5" cy="687.8" r="1.75"/><circle cx="344.5" cy="686.0" r="1.75"/><circle cx="344.0" cy="688.5" r="1.75"/><circle cx="349.0" cy="686.7" r="1.75"/><circle cx="348.6" cy="689.3" r="1.75"/><circle cx="353.5" cy="687.5" r="1.75"/><circle cx="353.1" cy="690.0" r="1.75"/><circle cx="358.0" cy="688.2" r="1.75"/><circle cx="357.7" cy="690.7" r="1.75"/><circle cx="362.6" cy="689.0" r="1.75"/><circle cx="362.2" cy="691.4" r="1.75"/><circle cx="367.1" cy="689.7" r="1.75"/><circle cx="366.8" cy="692.0" r="1.75"/><circle cx="371.7" cy="690.3" r="1.75"/><circle cx="371.3" cy="692.7" r="1.75"/><circle cx="376.2" cy="691.0" r="1.75"/><circle cx="375.9" cy="693.3" r="1.75"/><circle cx="380.8" cy="691.6" r="1.75"/><circle cx="380.5" cy="693.9" r="1.75"/><circle cx="385.3" cy="692.2" r="1.75"/><circle cx="385.0" cy="694.5" r="1.75"/><circle cx="389.9" cy="692.8" r="1.75"/><circle cx="389.6" cy="695.0" r="1.75"/><circle cx="394.4" cy="693.4" r="1.75"/><circle cx="394.2" cy="695.6" r="1.75"/><circle cx="399.0" cy="693.9" r="1.75"/><circle cx="398.8" cy="696.1" r="1.75"/><circle cx="403.6" cy="694.5" r="1.75"/><circle cx="403.3" cy="696.6" r="1.75"/><circle cx="408.1" cy="695.0" r="1.75"/><circle cx="407.9" cy="697.1" r="1.75"/><circle cx="412.7" cy="695.5" r="1.75"/><circle cx="412.5" cy="697.6" r="1.75"/><circle cx="417.3" cy="696.0" r="1.75"/><circle cx="417.1" cy="698.1" r="1.75"/><circle cx="421.8" cy="696.5" r="1.75"/><circle cx="421.6" cy="698.5" r="1.75"/><circle cx="426.4" cy="697.0" r="1.75"/><circle cx="426.2" cy="699.0" r="1.75"/><circle cx="431.0" cy="697.4" r="1.75"/><circle cx="430.8" cy="699.4" r="1.75"/><circle cx="435.6" cy="697.9" r="1.75"/><circle cx="435.4" cy="699.8" r="1.75"/><circle cx="440.1" cy="698.3" r="1.75"/><circle cx="440.0" cy="700.2" r="1.75"/><circle cx="444.7" cy="698.7" r="1.75"/><circle cx="444.6" cy="700.6" r="1.75"/><circle cx="449.3" cy="699.2" r="1.75"/><circle cx="449.1" cy="701.0" r="1.75"/><circle cx="453.9" cy="699.6" r="1.75"/><circle cx="453.7" cy="701.4" r="1.75"/><circle cx="458.5" cy="700.0" r="1.75"/><circle cx="458.3" cy="701.8" r="1.75"/><circle cx="463.1" cy="700.3" r="1.75"/><circle cx="462.9" cy="702.1" r="1.75"/><circle cx="467.6" cy="700.7" r="1.75"/><circle cx="467.5" cy="702.5" r="1.75"/><circle cx="472.2" cy="701.1" r="1.75"/><circle cx="472.1" cy="702.8" r="1.75"/></g>
<path d="M185.00 614.46L185.00 614.47L185.01 614.48L185.03 614.50L185.05 614.53L185.08 614.56L185.12 614.61L185.16 614.66L185.21 614.71L185.26 614.78L185.32 614.85L185.39 614.94L185.47 615.03L185.55 615.12L185.63 615.23L185.73 615.34L185.83 615.46L185.93 615.58L186.05 615.72L186.17 615.86L186.29 616.01L186.43 616.17L186.56 616.33L186.71 616.50L186.86 616.68L187.02 616.86L187.19 617.05L187.36 617.25L187.53 617.45L187.72 617.67L187.91 617.88L188.11 618.11L188.31 618.34L188.52 618.58L188.74 618.82L188.96 619.07L189.19 619.33L189.43 619.59L189.67 619.86L189.92 620.13L190.17 620.41L190.44 620.69L190.70 620.98L190.98 621.28L191.26 621.58L191.55 621.89L191.84 622.20L192.14 622.51L192.45 622.84L192.76 623.16L193.08 623.49L193.41 623.83L193.74 624.17L194.08 624.51L194.43 624.86L194.78 625.21L195.14 625.57L195.51 625.93L195.88 626.30L196.26 626.67L196.64 627.04L197.03 627.41L197.43 627.79L197.83 628.18L198.24 628.56L198.66 628.95L199.08 629.34L199.51 629.74L199.95 630.14L200.39 630.54L200.84 630.94L201.30 631.35L201.76 631.75L202.23 632.16L202.71 632.58L203.19 632.99L203.68 633.41L204.17 633.83L204.67 634.25L205.18 634.67L205.69 635.09L206.21 635.52L206.74 635.95L207.27 636.37L207.81 636.80L208.36 637.23L208.91 637.67L209.47 638.10L210.04 638.53L210.61 638.97L211.19 639.40L211.78 639.84L212.37 640.28L212.97 640.71L213.57 641.15L214.18 641.59L214.80 642.03L215.42 642.47L216.05 642.91L216.69 643.35L217.33 643.79L217.98 644.23L218.64 644.67L219.30 645.10L219.97 645.54L220.65 645.98L221.33 646.42L222.02 646.86L222.71 647.30L223.42 647.73L224.12 648.17L224.84 648.61L225.56 649.04L226.29 649.47L227.02 649.91L227.76 650.34L228.51 650.77L229.26 651.20L230.02 651.63L230.79 652.06L231.56 652.49L232.34 652.92L233.12 653.35L233.92 653.77L234.72 654.19L235.52 654.62L236.33 655.04L237.15 655.46L237.97 655.88L238.81 656.29L239.64 656.71L240.49 657.12L241.34 657.54L242.19 657.95L243.06 658.36L243.93 658.77L244.80 659.17L245.69 659.58L246.58 659.98L247.47 660.38L248.37 660.78L249.28 661.18L250.20 661.58L251.12 661.98L252.05 662.37L252.98 662.76L253.92 663.15L254.87 663.54L255.82 663.93L256.78 664.31L257.75 664.69L258.72 665.07L259.70 665.45L260.69 665.83L261.68 666.21L262.68 666.58L263.69 666.95L264.70 667.32L265.72 667.69L266.74 668.06L267.77 668.42L268.81 668.78L269.86 669.14L270.91 669.50L271.96 669.86L273.03 670.21L274.10 670.57L275.17 670.92L276.26 671.26L277.35 671.61L278.44 671.96L279.55 672.30L280.65 672.64L281.77 672.98L282.89 673.32L284.02 673.65L285.16 673.98L286.30 674.31L287.44 674.64L288.60 674.97L289.76 675.30L290.93 675.62L292.10 675.94L293.28 676.26L294.47 676.58L295.66 676.89L296.86 677.21L298.07 677.52L299.28 677.83L300.50 678.14L301.72 678.44L302.96 678.75L304.19 679.05L305.44 679.35L306.69 679.65L307.95 679.94L309.21 680.24L310.48 680.53L311.76 680.82L313.04 681.11L314.33 681.40L315.63 681.68L316.93 681.97L318.24 682.25L319.56 682.53L320.88 682.81L322.21 683.08L323.55 683.36L324.89 683.63L326.24 683.90L327.59 684.17L328.95 684.44L330.32 684.70L331.69 684.96L333.07 685.23L334.46 685.49L335.85 685.75L337.25 686.00L338.66 686.26L340.07 686.51L341.49 686.76L342.92 687.01L344.35 687.26L345.79 687.51L347.24 687.75L348.69 688.00L350.15 688.24L351.61 688.48L353.08 688.72L354.56 688.95L356.04 689.19L357.53 689.42L359.03 689.65L360.53 689.88L362.04 690.11L363.56 690.34L365.08 690.57L366.61 690.79L368.15 691.01L369.69 691.24L371.24 691.46L372.80 691.67L374.36 691.89L375.93 692.11L377.50 692.32L379.08 692.53L380.67 692.74L382.26 692.95L383.86 693.16L385.47 693.37L387.08 693.57L388.70 693.78L390.33 693.98L391.96 694.18L393.60 694.38L395.25 694.58L396.90 694.78L398.56 694.97L400.22 695.17L401.90 695.36L403.57 695.55L405.26 695.74L406.95 695.93L408.65 696.12L410.35 696.31L412.06 696.49L413.78 696.68L415.50 696.86L417.23 697.04L418.97 697.22L420.71 697.40L422.46 697.58L424.21 697.76L425.98 697.93L427.75 698.11L429.52 698.28L431.30 698.45L433.09 698.62L434.88 698.79L436.69 698.96L438.49 699.13L440.31 699.29L442.13 699.46L443.95 699.62L445.79 699.79L447.63 699.95L449.47 700.11L451.33 700.27L453.19 700.43L455.05 700.58L456.92 700.74L458.80 700.90L460.69 701.05L462.58 701.20L464.48 701.36L466.38 701.51L468.29 701.66L470.21 701.81L472.13 701.96L474.06 702.10L476.00 702.25" stroke="#1a1a1a" stroke-width="1.8" fill="none"/>
<g fill="#1a1a1a"><circle cx="185.9" cy="638.5" r="1.75"/><circle cx="184.1" cy="642.3" r="1.75"/><circle cx="190.0" cy="640.3" r="1.75"/><circle cx="188.4" cy="644.1" r="1.75"/><circle cx="194.2" cy="642.1" r="1.75"/><circle cx="192.7" cy="645.9" r="1.75"/><circle cx="198.5" cy="643.7" r="1.75"/><circle cx="197.1" cy="647.5" r="1.75"/><circle cx="202.8" cy="645.3" r="1.75"/><circle cx="201.4" cy="649.1" r="1.75"/><circle cx="207.1" cy="646.8" r="1.75"/><circle cx="205.8" cy="650.6" r="1.75"/><circle cx="211.4" cy="648.2" r="1.75"/><circle cx="210.2" cy="652.0" r="1.75"/><circle cx="215.8" cy="649.6" r="1.75"/><circle cx="214.7" cy="653.3" r="1.75"/><circle cx="220.1" cy="650.9" r="1.75"/><circle cx="219.1" cy="654.6" r="1.75"/><circle cx="224.5" cy="652.2" r="1.75"/><circle cx="223.6" cy="655.8" r="1.75"/><circle cx="229.0" cy="653.4" r="1.75"/><circle cx="228.0" cy="657.0" r="1.75"/><circle cx="233.4" cy="654.5" r="1.75"/><circle cx="232.5" cy="658.1" r="1.75"/><circle cx="237.8" cy="655.6" r="1.75"/><circle cx="237.0" cy="659.2" r="1.75"/><circle cx="242.3" cy="656.7" r="1.75"/><circle cx="241.5" cy="660.2" r="1.75"/><circle cx="246.8" cy="657.7" r="1.75"/><circle cx="246.0" cy="661.2" r="1.75"/><circle cx="251.3" cy="658.7" r="1.75"/><circle cx="250.5" cy="662.1" r="1.75"/><circle cx="255.7" cy="659.6" r="1.75"/><circle cx="255.1" cy="663.0" r="1.75"/><circle cx="260.2" cy="660.5" r="1.75"/><circle cx="259.6" cy="663.9" r="1.75"/><circle cx="264.7" cy="661.4" r="1.75"/><circle cx="264.1" cy="664.7" r="1.75"/><circle cx="269.3" cy="662.2" r="1.75"/><circle cx="268.7" cy="665.5" r="1.75"/><circle cx="273.8" cy="663.0" r="1.75"/><circle cx="273.2" cy="666.3" r="1.75"/><circle cx="278.3" cy="663.8" r="1.75"/><circle cx="277.8" cy="667.1" r="1.75"/><circle cx="282.8" cy="664.6" r="1.75"/><circle cx="282.3" cy="667.8" r="1.75"/><circle cx="287.4" cy="665.3" r="1.75"/><circle cx="286.9" cy="668.5" r="1.75"/><circle cx="291.9" cy="666.0" r="1.75"/><circle cx="291.4" cy="669.2" r="1.75"/><circle cx="296.4" cy="666.7" r="1.75"/><circle cx="296.0" cy="669.8" r="1.75"/><circle cx="301.0" cy="667.3" r="1.75"/><circle cx="300.6" cy="670.5" r="1.75"/><circle cx="305.5" cy="668.0" r="1.75"/><circle cx="305.1" cy="671.1" r="1.75"/><circle cx="310.1" cy="668.6" r="1.75"/><circle cx="309.7" cy="671.7" r="1.75"/><circle cx="314.6" cy="669.2" r="1.75"/><circle cx="314.3" cy="672.2" r="1.75"/><circle cx="319.2" cy="669.8" r="1.75"/><circle cx="318.8" cy="672.8" r="1.75"/><circle cx="323.8" cy="670.4" r="1.75"/><circle cx="323.4" cy="673.4" r="1.75"/><circle cx="328.3" cy="670.9" r="1.75"/><circle cx="328.0" cy="673.9" r="1.75"/><circle cx="332.9" cy="671.5" r="1.75"/><circle cx="332.5" cy="674.4" r="1.75"/><circle cx="337.4" cy="672.0" r="1.75"/><circle cx="337.1" cy="674.9" r="1.75"/><circle cx="342.0" cy="672.5" r="1.75"/><circle cx="341.7" cy="675.4" r="1.75"/><circle cx="346.6" cy="673.0" r="1.75"/><circle cx="346.3" cy="675.9" r="1.75"/><circle cx="351.2" cy="673.5" r="1.75"/><circle cx="350.9" cy="676.3" r="1.75"/><circle cx="355.7" cy="674.0" r="1.75"/><circle cx="355.4" cy="676.8" r="1.75"/><circle cx="360.3" cy="674.4" r="1.75"/><circle cx="360.0" cy="677.2" r="1.75"/><circle cx="364.9" cy="674.9" r="1.75"/><circle cx="364.6" cy="677.7" r="1.75"/><circle cx="369.4" cy="675.3" r="1.75"/><circle cx="369.2" cy="678.1" r="1.75"/><circle cx="374.0" cy="675.8" r="1.75"/><circle cx="373.8" cy="678.5" r="1.75"/><circle cx="378.6" cy="676.2" r="1.75"/><circle cx="378.4" cy="678.9" r="1.75"/><circle cx="383.2" cy="676.6" r="1.75"/><circle cx="382.9" cy="679.3" r="1.75"/><circle cx="387.8" cy="677.0" r="1.75"/><circle cx="387.5" cy="679.7" r="1.75"/><circle cx="392.3" cy="677.4" r="1.75"/><circle cx="392.1" cy="680.1" r="1.75"/><circle cx="396.9" cy="677.8" r="1.75"/><circle cx="396.7" cy="680.4" r="1.75"/><circle cx="401.5" cy="678.2" r="1.75"/><circle cx="401.3" cy="680.8" r="1.75"/><circle cx="406.1" cy="678.5" r="1.75"/><circle cx="405.9" cy="681.1" r="1.75"/><circle cx="410.7" cy="678.9" r="1.75"/><circle cx="410.5" cy="681.5" r="1.75"/><circle cx="415.3" cy="679.2" r="1.75"/><circle cx="415.1" cy="681.8" r="1.75"/><circle cx="419.8" cy="679.6" r="1.75"/><circle cx="419.7" cy="682.1" r="1.75"/><circle cx="424.4" cy="679.9" r="1.75"/><circle cx="424.2" cy="682.5" r="1.75"/><circle cx="429.0" cy="680.3" r="1.75"/><circle cx="428.8" cy="682.8" r="1.75"/><circle cx="433.6" cy="680.6" r="1.75"/><circle cx="433.4" cy="683.1" r="1.75"/><circle cx="438.2" cy="680.9" r="1.75"/><circle cx="438.0" cy="683.4" r="1.75"/><circle cx="442.8" cy="681.2" r="1.75"/><circle cx="442.6" cy="683.7" r="1.75"/><circle cx="447.4" cy="681.5" r="1.75"/><circle cx="447.2" cy="684.0" r="1.75"/><circle cx="452.0" cy="681.8" r="1.75"/><circle cx="451.8" cy="684.3" r="1.75"/><circle cx="456.5" cy="682.1" r="1.75"/><circle cx="456.4" cy="684.6" r="1.75"/><circle cx="461.1" cy="682.4" r="1.75"/><circle cx="461.0" cy="684.8" r="1.75"/><circle cx="465.7" cy="682.7" r="1.75"/><circle cx="465.6" cy="685.1" r="1.75"/><circle cx="470.3" cy="683.0" r="1.75"/><circle cx="470.2" cy="685.4" r="1.75"/><circle cx="474.9" cy="683.3" r="1.75"/><circle cx="474.8" cy="685.6" r="1.75"/></g>
<path d="M185.00 640.38L185.00 640.38L185.01 640.39L185.03 640.39L185.05 640.40L185.08 640.42L185.12 640.43L185.16 640.45L185.21 640.47L185.26 640.50L185.32 640.52L185.39 640.55L185.47 640.59L185.55 640.62L185.63 640.66L185.73 640.70L185.83 640.75L185.93 640.80L186.05 640.85L186.17 640.90L186.29 640.96L186.43 641.01L186.56 641.07L186.71 641.14L186.86 641.20L187.02 641.27L187.19 641.35L187.36 641.42L187.53 641.50L187.72 641.58L187.91 641.66L188.11 641.74L188.31 641.83L188.52 641.92L188.74 642.01L188.96 642.11L189.19 642.20L189.43 642.30L189.67 642.41L189.92 642.51L190.17 642.62L190.44 642.73L190.70 642.84L190.98 642.95L191.26 643.07L191.55 643.18L191.84 643.30L192.14 643.42L192.45 643.55L192.76 643.67L193.08 643.80L193.41 643.93L193.74 644.06L194.08 644.20L194.43 644.33L194.78 644.47L195.14 644.61L195.51 644.75L195.88 644.90L196.26 645.04L196.64 645.19L197.03 645.34L197.43 645.49L197.83 645.64L198.24 645.79L198.66 645.95L199.08 646.10L199.51 646.26L199.95 646.42L200.39 646.58L200.84 646.74L201.30 646.90L201.76 647.07L202.23 647.23L202.71 647.40L203.19 647.57L203.68 647.74L204.17 647.91L204.67 648.08L205.18 648.26L205.69 648.43L206.21 648.60L206.74 648.78L207.27 648.96L207.81 649.14L208.36 649.32L208.91 649.49L209.47 649.68L210.04 649.86L210.61 650.04L211.19 650.22L211.78 650.41L212.37 650.59L212.97 650.78L213.57 650.96L214.18 651.15L214.80 651.34L215.42 651.52L216.05 651.71L216.69 651.90L217.33 652.09L217.98 652.28L218.64 652.47L219.30 652.66L219.97 652.85L220.65 653.05L221.33 653.24L222.02 653.43L222.71 653.62L223.42 653.82L224.12 654.01L224.84 654.20L225.56 654.40L226.29 654.59L227.02 654.79L227.76 654.98L228.51 655.18L229.26 655.37L230.02 655.57L230.79 655.76L231.56 655.96L232.34 656.15L233.12 656.35L233.92 656.54L234.72 656.74L235.52 656.93L236.33 657.13L237.15 657.32L237.97 657.52L238.81 657.71L239.64 657.91L240.49 658.10L241.34 658.30L242.19 658.49L243.06 658.69L243.93 658.88L244.80 659.08L245.69 659.27L246.58 659.46L247.47 659.66L248.37 659.85L249.28 660.04L250.20 660.24L251.12 660.43L252.05 660.62L252.98 660.81L253.92 661.00L254.87 661.20L255.82 661.39L256.78 661.58L257.75 661.77L258.72 661.96L259.70 662.15L260.69 662.34L261.68 662.53L262.68 662.72L263.69 662.90L264.70 663.09L265.72 663.28L266.74 663.47L267.77 663.65L268.81 663.84L269.86 664.03L270.91 664.21L271.96 664.40L273.03 664.58L274.10 664.77L275.17 664.95L276.26 665.13L277.35 665.31L278.44 665.50L279.55 665.68L280.65 665.86L281.77 666.04L282.89 666.22L284.02 666.40L285.16 666.58L286.30 666.76L287.44 666.94L288.60 667.11L289.76 667.29L290.93 667.47L292.10 667.64L293.28 667.82L294.47 668.00L295.66 668.17L296.86 668.34L298.07 668.52L299.28 668.69L300.50 668.86L301.72 669.03L302.96 669.21L304.19 669.38L305.44 669.55L306.69 669.72L307.95 669.88L309.21 670.05L310.48 670.22L311.76 670.39L313.04 670.55L314.33 670.72L315.63 670.89L316.93 671.05L318.24 671.22L319.56 671.38L320.88 671.54L322.21 671.71L323.55 671.87L324.89 672.03L326.24 672.19L327.59 672.35L328.95 672.51L330.32 672.67L331.69 672.83L333.07 672.99L334.46 673.14L335.85 673.30L337.25 673.46L338.66 673.61L340.07 673.77L341.49 673.92L342.92 674.08L344.35 674.23L345.79 674.38L347.24 674.53L348.69 674.69L350.15 674.84L351.61 674.99L353.08 675.14L354.56 675.29L356.04 675.44L357.53 675.58L359.03 675.73L360.53 675.88L362.04 676.03L363.56 676.17L365.08 676.32L366.61 676.46L368.15 676.61L369.69 676.75L371.24 676.89L372.80 677.04L374.36 677.18L375.93 677.32L377.50 677.46L379.08 677.60L380.67 677.74L382.26 677.88L383.86 678.02L385.47 678.16L387.08 678.29L388.70 678.43L390.33 678.57L391.96 678.70L393.60 678.84L395.25 678.97L396.90 679.11L398.56 679.24L400.22 679.37L401.90 679.51L403.57 679.64L405.26 679.77L406.95 679.90L408.65 680.03L410.35 680.16L412.06 680.29L413.78 680.42L415.50 680.55L417.23 680.68L418.97 680.81L420.71 680.93L422.46 681.06L424.21 681.18L425.98 681.31L427.75 681.43L429.52 681.56L431.30 681.68L433.09 681.81L434.88 681.93L436.69 682.05L438.49 682.17L440.31 682.29L442.13 682.42L443.95 682.54L445.79 682.66L447.63 682.78L449.47 682.89L451.33 683.01L453.19 683.13L455.05 683.25L456.92 683.37L458.80 683.48L460.69 683.60L462.58 683.71L464.48 683.83L466.38 683.94L468.29 684.06L470.21 684.17L472.13 684.28L474.06 684.40L476.00 684.51" stroke="#1a1a1a" stroke-width="4.0" stroke-dasharray="11 2.5" fill="none"/>
<g fill="#1a1a1a"><circle cx="186.0" cy="629.4" r="3.8"/><circle cx="197.9" cy="621.3" r="3.8"/><circle cx="212.5" cy="627.2" r="3.8"/><circle cx="227.1" cy="631.0" r="3.8"/><circle cx="201.7" cy="632.1" r="3.8"/><circle cx="207.1" cy="635.3" r="3.8"/><circle cx="217.9" cy="638.6" r="3.8"/><circle cx="225.5" cy="639.7" r="3.8"/><circle cx="236.3" cy="638.6" r="3.8"/><circle cx="212.5" cy="642.9" r="3.8"/><circle cx="221.2" cy="646.2" r="3.8"/><circle cx="228.8" cy="648.3" r="3.8"/><circle cx="215.8" cy="661.9" r="3.8"/><circle cx="223.3" cy="652.7" r="3.8"/><circle cx="232.0" cy="654.8" r="3.8"/><circle cx="237.4" cy="650.5" r="3.8"/><circle cx="236.5" cy="639.0" r="3.8"/><circle cx="239.8" cy="643.3" r="3.8"/><circle cx="231.1" cy="644.9" r="3.8"/><circle cx="236.5" cy="651.4" r="3.8"/><circle cx="232.2" cy="657.9" r="3.8"/><circle cx="240.8" cy="659.0" r="3.8"/><circle cx="248.4" cy="656.8" r="3.8"/><circle cx="254.9" cy="663.3" r="3.8"/><circle cx="262.5" cy="662.3" r="3.8"/><circle cx="236.5" cy="664.4" r="3.8"/><circle cx="243.0" cy="665.5" r="3.8"/><circle cx="254.9" cy="668.8" r="3.8"/><circle cx="260.3" cy="674.2" r="3.8"/><circle cx="274.4" cy="660.1" r="3.8"/><circle cx="271.2" cy="667.7" r="3.8"/><circle cx="278.8" cy="665.5" r="3.8"/><circle cx="288.5" cy="660.1" r="3.8"/><circle cx="267.9" cy="674.2" r="3.8"/><circle cx="278.8" cy="674.2" r="3.8"/><circle cx="286.3" cy="670.9" r="3.8"/><circle cx="289.8" cy="660.6" r="3.8"/><circle cx="282.2" cy="668.2" r="3.8"/><circle cx="288.7" cy="667.1" r="3.8"/><circle cx="284.3" cy="675.8" r="3.8"/><circle cx="294.1" cy="672.5" r="3.8"/><circle cx="291.9" cy="679.0" r="3.8"/><circle cx="282.2" cy="681.2" r="3.8"/><circle cx="319.0" cy="681.2" r="3.8"/><circle cx="338.0" cy="680.1" r="3.8"/><circle cx="340.1" cy="696.1" r="3.8"/><circle cx="337.5" cy="680.3" r="3.8"/><circle cx="351.4" cy="686.0" r="3.8"/><circle cx="360.3" cy="684.1" r="3.8"/><circle cx="362.8" cy="687.9" r="3.8"/><circle cx="370.4" cy="680.3" r="3.8"/><circle cx="372.9" cy="684.1" r="3.8"/><circle cx="384.9" cy="686.7" r="3.8"/><circle cx="394.4" cy="690.5" r="3.8"/><circle cx="399.5" cy="687.9" r="3.8"/><circle cx="395.7" cy="698.0" r="3.8"/><circle cx="402.0" cy="694.2" r="3.8"/><circle cx="347.6" cy="675.3" r="3.8"/><circle cx="400.0" cy="688.4" r="3.8"/><circle cx="420.3" cy="699.0" r="3.8"/><circle cx="434.9" cy="699.0" r="3.8"/><circle cx="469.8" cy="698.1" r="3.8"/><circle cx="475.5" cy="705.5" r="3.8"/><circle cx="203.9" cy="633.2" r="3.8"/><circle cx="209.7" cy="637.5" r="3.8"/><circle cx="216.9" cy="641.9" r="3.8"/><circle cx="221.2" cy="647.7" r="3.8"/><circle cx="218.3" cy="639.0" r="3.8"/><circle cx="224.1" cy="641.9" r="3.8"/><circle cx="232.8" cy="643.3" r="3.8"/><circle cx="237.1" cy="639.0" r="3.8"/><circle cx="240.0" cy="643.3" r="3.8"/><circle cx="229.9" cy="650.5" r="3.8"/><circle cx="235.7" cy="654.9" r="3.8"/><circle cx="242.9" cy="657.8" r="3.8"/><circle cx="247.2" cy="654.9" r="3.8"/><circle cx="251.5" cy="662.1" r="3.8"/><circle cx="241.4" cy="663.5" r="3.8"/><circle cx="250.1" cy="667.9" r="3.8"/><circle cx="200.3" cy="631.0" r="3.8"/><circle cx="212.5" cy="640.4" r="3.8"/><circle cx="244.3" cy="656.6" r="3.8"/><circle cx="251.6" cy="660.9" r="3.8"/><circle cx="261.7" cy="663.8" r="3.8"/><circle cx="260.2" cy="673.9" r="3.8"/><circle cx="268.9" cy="669.5" r="3.8"/><circle cx="273.2" cy="660.9" r="3.8"/><circle cx="276.1" cy="673.9" r="3.8"/><circle cx="280.4" cy="679.7" r="3.8"/><circle cx="283.3" cy="666.7" r="3.8"/><circle cx="287.7" cy="660.9" r="3.8"/><circle cx="289.1" cy="673.9" r="3.8"/><circle cx="293.4" cy="678.2" r="3.8"/><circle cx="268.9" cy="678.2" r="3.8"/><circle cx="254.4" cy="668.1" r="3.8"/><circle cx="242.9" cy="663.8" r="3.8"/><circle cx="277.5" cy="681.1" r="3.8"/><circle cx="286.2" cy="681.1" r="3.8"/><circle cx="199.5" cy="626.7" r="3.8"/><circle cx="207.1" cy="633.2" r="3.8"/><circle cx="210.3" cy="631.0" r="3.8"/><circle cx="212.0" cy="629.0" r="3.8"/></g>
<path d="M85.50 869.40V1179.70M72.70 1167.20H531.75V1179.70" stroke="#1a1a1a" stroke-width="2.7" fill="none"/>
<path d="M72.70 1167.20H85.50" stroke="#1a1a1a" stroke-width="2.7"/>
<text x="69.70" y="1174.20" text-anchor="end" class="tk">0.0</text>
<path d="M72.70 1092.75H85.50" stroke="#1a1a1a" stroke-width="2.7"/>
<text x="69.70" y="1099.75" text-anchor="end" class="tk">0.5</text>
<path d="M72.70 1018.30H85.50" stroke="#1a1a1a" stroke-width="2.7"/>
<text x="69.70" y="1025.30" text-anchor="end" class="tk">1.0</text>
<path d="M72.70 943.85H85.50" stroke="#1a1a1a" stroke-width="2.7"/>
<text x="69.70" y="950.85" text-anchor="end" class="tk">1.5</text>
<path d="M72.70 869.40H85.50" stroke="#1a1a1a" stroke-width="2.7"/>
<text x="69.70" y="876.40" text-anchor="end" class="tk">2.0</text>
<path d="M85.50 1167.20V1179.70" stroke="#1a1a1a" stroke-width="2.7"/>
<text x="85.50" y="1202.20" text-anchor="middle" class="tk">0</text>
<path d="M234.25 1167.20V1179.70" stroke="#1a1a1a" stroke-width="2.7"/>
<text x="234.25" y="1202.20" text-anchor="middle" class="tk">50</text>
<path d="M383.00 1167.20V1179.70" stroke="#1a1a1a" stroke-width="2.7"/>
<text x="383.00" y="1202.20" text-anchor="middle" class="tk">100</text>
<path d="M531.75 1167.20V1179.70" stroke="#1a1a1a" stroke-width="2.7"/>
<text x="531.75" y="1202.20" text-anchor="middle" class="tk">150</text>
<text x="320.50" y="1238.40" text-anchor="middle" class="al">Body weight [kg]</text>
<text x="17" y="1229.30" class="pl">C</text>
<text transform="translate(30.70 1180.40) rotate(-90)" class="yl">SNRnorm liver [(MBq.min)<tspan class="sup" dy="-11.5">-0.5</tspan><tspan dy="11.5">]</tspan></text>
<path d="M236.90 888.80H268.80" stroke="#1a1a1a" stroke-width="2"/>
<path d="M236.30 929.20H270.00" stroke="#1a1a1a" stroke-width="3.6" stroke-dasharray="9.5 4.5"/>
<text x="288.00" y="899.10" class="lg">SNRnorm liver,fit = α p<tspan class="lsup" dy="-9">-1</tspan></text>
<text x="288.00" y="939.50" class="lg">SNRnorm liver,fit = α p<tspan class="lsup" dy="-9">-0.46</tspan></text>
<g fill="#1a1a1a"><circle cx="102.5" cy="872.4" r="1.75"/><circle cx="102.7" cy="877.0" r="1.75"/><circle cx="103.0" cy="881.6" r="1.75"/><circle cx="103.3" cy="886.2" r="1.75"/><circle cx="103.6" cy="890.8" r="1.75"/><circle cx="100.7" cy="890.9" r="1.75"/><circle cx="103.9" cy="895.4" r="1.75"/><circle cx="100.9" cy="895.5" r="1.75"/><circle cx="104.2" cy="900.0" r="1.75"/><circle cx="101.2" cy="900.1" r="1.75"/><circle cx="104.5" cy="904.5" r="1.75"/><circle cx="101.4" cy="904.7" r="1.75"/><circle cx="104.8" cy="909.1" r="1.75"/><circle cx="101.7" cy="909.3" r="1.75"/><circle cx="105.2" cy="913.7" r="1.75"/><circle cx="102.0" cy="913.9" r="1.75"/><circle cx="105.5" cy="918.3" r="1.75"/><circle cx="102.3" cy="918.5" r="1.75"/><circle cx="105.9" cy="922.9" r="1.75"/><circle cx="102.6" cy="923.1" r="1.75"/><circle cx="106.3" cy="927.4" r="1.75"/><circle cx="102.9" cy="927.7" r="1.75"/><circle cx="106.7" cy="932.0" r="1.75"/><circle cx="103.2" cy="932.3" r="1.75"/><circle cx="107.1" cy="936.6" r="1.75"/><circle cx="103.6" cy="936.9" r="1.75"/><circle cx="107.5" cy="941.2" r="1.75"/><circle cx="103.9" cy="941.5" r="1.75"/><circle cx="107.9" cy="945.7" r="1.75"/><circle cx="104.3" cy="946.1" r="1.75"/><circle cx="108.4" cy="950.3" r="1.75"/><circle cx="104.7" cy="950.7" r="1.75"/><circle cx="108.9" cy="954.9" r="1.75"/><circle cx="105.1" cy="955.3" r="1.75"/><circle cx="109.4" cy="959.4" r="1.75"/><circle cx="105.5" cy="959.8" r="1.75"/><circle cx="109.9" cy="964.0" r="1.75"/><circle cx="106.0" cy="964.4" r="1.75"/><circle cx="110.5" cy="968.6" r="1.75"/><circle cx="106.5" cy="969.0" r="1.75"/><circle cx="111.1" cy="973.1" r="1.75"/><circle cx="106.9" cy="973.6" r="1.75"/><circle cx="111.7" cy="977.7" r="1.75"/><circle cx="107.5" cy="978.2" r="1.75"/><circle cx="112.3" cy="982.2" r="1.75"/><circle cx="108.0" cy="982.8" r="1.75"/><circle cx="113.0" cy="986.7" r="1.75"/><circle cx="108.6" cy="987.4" r="1.75"/><circle cx="113.7" cy="991.3" r="1.75"/><circle cx="109.1" cy="991.9" r="1.75"/><circle cx="114.4" cy="995.8" r="1.75"/><circle cx="109.8" cy="996.5" r="1.75"/><circle cx="115.2" cy="1000.3" r="1.75"/><circle cx="110.4" cy="1001.1" r="1.75"/><circle cx="116.0" cy="1004.8" r="1.75"/><circle cx="111.1" cy="1005.7" r="1.75"/><circle cx="116.9" cy="1009.3" r="1.75"/><circle cx="111.9" cy="1010.2" r="1.75"/><circle cx="117.8" cy="1013.8" r="1.75"/><circle cx="112.7" cy="1014.8" r="1.75"/><circle cx="118.7" cy="1018.3" r="1.75"/><circle cx="113.5" cy="1019.3" r="1.75"/><circle cx="119.8" cy="1022.7" r="1.75"/><circle cx="114.4" cy="1023.9" r="1.75"/><circle cx="120.8" cy="1027.1" r="1.75"/><circle cx="115.3" cy="1028.4" r="1.75"/><circle cx="122.0" cy="1031.6" r="1.75"/><circle cx="116.3" cy="1033.0" r="1.75"/><circle cx="123.2" cy="1035.9" r="1.75"/><circle cx="117.4" cy="1037.5" r="1.75"/><circle cx="124.5" cy="1040.3" r="1.75"/><circle cx="118.5" cy="1042.0" r="1.75"/><circle cx="125.9" cy="1044.6" r="1.75"/><circle cx="119.8" cy="1046.5" r="1.75"/><circle cx="127.4" cy="1048.9" r="1.75"/><circle cx="121.1" cy="1051.0" r="1.75"/><circle cx="128.9" cy="1053.1" r="1.75"/><circle cx="122.5" cy="1055.4" r="1.75"/><circle cx="130.6" cy="1057.3" r="1.75"/><circle cx="124.1" cy="1059.9" r="1.75"/><circle cx="132.4" cy="1061.5" r="1.75"/><circle cx="125.7" cy="1064.3" r="1.75"/><circle cx="134.3" cy="1065.5" r="1.75"/><circle cx="127.5" cy="1068.6" r="1.75"/><circle cx="136.3" cy="1069.5" r="1.75"/><circle cx="129.5" cy="1072.9" r="1.75"/><circle cx="138.4" cy="1073.4" r="1.75"/><circle cx="131.6" cy="1077.2" r="1.75"/><circle cx="140.7" cy="1077.3" r="1.75"/><circle cx="133.8" cy="1081.4" r="1.75"/><circle cx="143.1" cy="1081.0" r="1.75"/><circle cx="136.3" cy="1085.4" r="1.75"/><circle cx="145.7" cy="1084.6" r="1.75"/><circle cx="138.9" cy="1089.4" r="1.75"/><circle cx="148.4" cy="1088.0" r="1.75"/><circle cx="141.8" cy="1093.3" r="1.75"/><circle cx="151.2" cy="1091.4" r="1.75"/><circle cx="144.8" cy="1097.0" r="1.75"/><circle cx="154.2" cy="1094.6" r="1.75"/><circle cx="148.1" cy="1100.6" r="1.75"/><circle cx="157.3" cy="1097.7" r="1.75"/><circle cx="151.5" cy="1103.9" r="1.75"/><circle cx="160.6" cy="1100.7" r="1.75"/><circle cx="155.1" cy="1107.1" r="1.75"/><circle cx="164.0" cy="1103.5" r="1.75"/><circle cx="158.8" cy="1110.1" r="1.75"/><circle cx="167.5" cy="1106.1" r="1.75"/><circle cx="162.7" cy="1112.9" r="1.75"/><circle cx="171.1" cy="1108.7" r="1.75"/><circle cx="166.7" cy="1115.5" r="1.75"/><circle cx="174.9" cy="1111.0" r="1.75"/><circle cx="170.9" cy="1117.9" r="1.75"/><circle cx="178.7" cy="1113.3" r="1.75"/><circle cx="175.1" cy="1120.2" r="1.75"/><circle cx="182.6" cy="1115.4" r="1.75"/><circle cx="179.3" cy="1122.2" r="1.75"/><circle cx="186.7" cy="1117.4" r="1.75"/><circle cx="183.6" cy="1124.1" r="1.75"/><circle cx="190.7" cy="1119.3" r="1.75"/><circle cx="188.0" cy="1125.9" r="1.75"/><circle cx="194.9" cy="1121.0" r="1.75"/><circle cx="192.4" cy="1127.5" r="1.75"/><circle cx="199.1" cy="1122.7" r="1.75"/><circle cx="196.9" cy="1129.0" r="1.75"/><circle cx="203.3" cy="1124.2" r="1.75"/><circle cx="201.3" cy="1130.4" r="1.75"/><circle cx="207.6" cy="1125.6" r="1.75"/><circle cx="205.8" cy="1131.7" r="1.75"/><circle cx="212.0" cy="1127.0" r="1.75"/><circle cx="210.3" cy="1132.9" r="1.75"/><circle cx="216.3" cy="1128.3" r="1.75"/><circle cx="214.8" cy="1134.1" r="1.75"/><circle cx="220.7" cy="1129.5" r="1.75"/><circle cx="219.3" cy="1135.1" r="1.75"/><circle cx="225.1" cy="1130.6" r="1.75"/><circle cx="223.9" cy="1136.1" r="1.75"/><circle cx="229.6" cy="1131.7" r="1.75"/><circle cx="228.4" cy="1137.0" r="1.75"/><circle cx="234.0" cy="1132.7" r="1.75"/><circle cx="233.0" cy="1137.9" r="1.75"/><circle cx="238.5" cy="1133.6" r="1.75"/><circle cx="237.5" cy="1138.7" r="1.75"/><circle cx="243.0" cy="1134.5" r="1.75"/><circle cx="242.1" cy="1139.5" r="1.75"/><circle cx="247.5" cy="1135.4" r="1.75"/><circle cx="246.7" cy="1140.2" r="1.75"/><circle cx="252.0" cy="1136.2" r="1.75"/><circle cx="251.2" cy="1140.9" r="1.75"/><circle cx="256.5" cy="1137.0" r="1.75"/><circle cx="255.8" cy="1141.6" r="1.75"/><circle cx="261.0" cy="1137.7" r="1.75"/><circle cx="260.4" cy="1142.2" r="1.75"/><circle cx="265.6" cy="1138.4" r="1.75"/><circle cx="265.0" cy="1142.8" r="1.75"/><circle cx="270.1" cy="1139.0" r="1.75"/><circle cx="269.5" cy="1143.3" r="1.75"/><circle cx="274.6" cy="1139.7" r="1.75"/><circle cx="274.1" cy="1143.9" r="1.75"/><circle cx="279.2" cy="1140.3" r="1.75"/><circle cx="278.7" cy="1144.4" r="1.75"/><circle cx="283.7" cy="1140.8" r="1.75"/><circle cx="283.3" cy="1144.8" r="1.75"/><circle cx="288.3" cy="1141.4" r="1.75"/><circle cx="287.9" cy="1145.3" r="1.75"/><circle cx="292.9" cy="1141.9" r="1.75"/><circle cx="292.5" cy="1145.7" r="1.75"/><circle cx="297.4" cy="1142.4" r="1.75"/><circle cx="297.1" cy="1146.2" r="1.75"/><circle cx="302.0" cy="1142.9" r="1.75"/><circle cx="301.7" cy="1146.6" r="1.75"/><circle cx="306.6" cy="1143.4" r="1.75"/><circle cx="306.2" cy="1147.0" r="1.75"/><circle cx="311.1" cy="1143.8" r="1.75"/><circle cx="310.8" cy="1147.3" r="1.75"/><circle cx="315.7" cy="1144.2" r="1.75"/><circle cx="315.4" cy="1147.7" r="1.75"/><circle cx="320.3" cy="1144.6" r="1.75"/><circle cx="320.0" cy="1148.0" r="1.75"/><circle cx="324.9" cy="1145.0" r="1.75"/><circle cx="324.6" cy="1148.4" r="1.75"/><circle cx="329.5" cy="1145.4" r="1.75"/><circle cx="329.2" cy="1148.7" r="1.75"/><circle cx="334.0" cy="1145.8" r="1.75"/><circle cx="333.8" cy="1149.0" r="1.75"/><circle cx="338.6" cy="1146.1" r="1.75"/><circle cx="338.4" cy="1149.3" r="1.75"/><circle cx="343.2" cy="1146.4" r="1.75"/><circle cx="343.0" cy="1149.5" r="1.75"/><circle cx="347.8" cy="1146.8" r="1.75"/><circle cx="347.6" cy="1149.8" r="1.75"/><circle cx="352.4" cy="1147.1" r="1.75"/><circle cx="352.2" cy="1150.1" r="1.75"/><circle cx="357.0" cy="1147.4" r="1.75"/><circle cx="356.8" cy="1150.3" r="1.75"/><circle cx="361.5" cy="1147.7" r="1.75"/><circle cx="361.4" cy="1150.6" r="1.75"/><circle cx="366.1" cy="1148.0" r="1.75"/><circle cx="366.0" cy="1150.8" r="1.75"/><circle cx="370.7" cy="1148.3" r="1.75"/><circle cx="370.6" cy="1151.1" r="1.75"/><circle cx="375.3" cy="1148.5" r="1.75"/><circle cx="375.2" cy="1151.3" r="1.75"/><circle cx="379.9" cy="1148.8" r="1.75"/><circle cx="379.8" cy="1151.5" r="1.75"/><circle cx="384.5" cy="1149.0" r="1.75"/><circle cx="384.4" cy="1151.7" r="1.75"/><circle cx="389.1" cy="1149.3" r="1.75"/><circle cx="389.0" cy="1151.9" r="1.75"/><circle cx="393.7" cy="1149.5" r="1.75"/><circle cx="393.6" cy="1152.1" r="1.75"/><circle cx="398.3" cy="1149.7" r="1.75"/><circle cx="398.2" cy="1152.3" r="1.75"/><circle cx="402.9" cy="1150.0" r="1.75"/><circle cx="402.8" cy="1152.5" r="1.75"/><circle cx="407.5" cy="1150.2" r="1.75"/><circle cx="407.4" cy="1152.7" r="1.75"/><circle cx="412.1" cy="1150.4" r="1.75"/><circle cx="411.9" cy="1152.8" r="1.75"/><circle cx="416.6" cy="1150.6" r="1.75"/><circle cx="416.5" cy="1153.0" r="1.75"/><circle cx="421.2" cy="1150.8" r="1.75"/><circle cx="421.1" cy="1153.2" r="1.75"/><circle cx="425.8" cy="1151.0" r="1.75"/><circle cx="425.7" cy="1153.3" r="1.75"/><circle cx="430.4" cy="1151.2" r="1.75"/><circle cx="430.3" cy="1153.5" r="1.75"/><circle cx="435.0" cy="1151.4" r="1.75"/><circle cx="434.9" cy="1153.6" r="1.75"/><circle cx="439.6" cy="1151.5" r="1.75"/><circle cx="439.5" cy="1153.8" r="1.75"/><circle cx="444.2" cy="1151.7" r="1.75"/><circle cx="444.1" cy="1153.9" r="1.75"/><circle cx="448.8" cy="1151.9" r="1.75"/><circle cx="448.7" cy="1154.1" r="1.75"/><circle cx="453.4" cy="1152.0" r="1.75"/><circle cx="453.3" cy="1154.2" r="1.75"/><circle cx="458.0" cy="1152.2" r="1.75"/><circle cx="457.9" cy="1154.3" r="1.75"/><circle cx="462.6" cy="1152.4" r="1.75"/><circle cx="462.5" cy="1154.5" r="1.75"/><circle cx="467.2" cy="1152.5" r="1.75"/><circle cx="467.1" cy="1154.6" r="1.75"/><circle cx="471.8" cy="1152.7" r="1.75"/><circle cx="471.7" cy="1154.7" r="1.75"/></g>
<path d="M100.95 869.40L101.17 873.82L101.47 879.50L101.78 885.11L102.10 890.65L102.42 896.12L102.76 901.50L103.10 906.81L103.45 912.02L103.81 917.15L104.17 922.19L104.55 927.14L104.93 931.99L105.33 936.75L105.73 941.42L106.14 945.99L106.56 950.47L106.98 954.85L107.42 959.14L107.86 963.34L108.31 967.44L108.77 971.45L109.24 975.37L109.72 979.20L110.20 982.95L110.70 986.61L111.20 990.18L111.71 993.67L112.23 997.08L112.76 1000.40L113.29 1003.65L113.84 1006.82L114.39 1009.91L114.95 1012.93L115.52 1015.88L116.10 1018.76L116.69 1021.56L117.28 1024.30L117.89 1026.98L118.50 1029.59L119.12 1032.13L119.75 1034.62L120.39 1037.05L121.03 1039.41L121.69 1041.72L122.35 1043.98L123.02 1046.18L123.70 1048.33L124.39 1050.43L125.09 1052.48L125.79 1054.48L126.51 1056.43L127.23 1058.34L127.96 1060.20L128.70 1062.02L129.44 1063.80L130.20 1065.53L130.96 1067.23L131.74 1068.89L132.52 1070.50L133.31 1072.09L134.11 1073.63L134.91 1075.14L135.73 1076.62L136.55 1078.06L137.38 1079.47L138.22 1080.85L139.07 1082.20L139.93 1083.52L140.79 1084.81L141.67 1086.08L142.55 1087.31L143.44 1088.52L144.34 1089.70L145.25 1090.86L146.16 1091.99L147.09 1093.10L148.02 1094.18L148.96 1095.25L149.91 1096.29L150.87 1097.30L151.84 1098.30L152.81 1099.28L153.80 1100.23L154.79 1101.17L155.79 1102.09L156.80 1102.99L157.82 1103.87L158.84 1104.73L159.88 1105.58L160.92 1106.41L161.97 1107.22L163.03 1108.02L164.10 1108.80L165.18 1109.56L166.26 1110.32L167.36 1111.05L168.46 1111.78L169.57 1112.48L170.69 1113.18L171.81 1113.86L172.95 1114.53L174.09 1115.19L175.25 1115.84L176.41 1116.47L177.58 1117.09L178.76 1117.70L179.94 1118.30L181.14 1118.89L182.34 1119.46L183.55 1120.03L184.77 1120.59L186.00 1121.14L187.24 1121.67L188.48 1122.20L189.74 1122.72L191.00 1123.23L192.27 1123.73L193.55 1124.22L194.84 1124.71L196.13 1125.18L197.44 1125.65L198.75 1126.11L200.07 1126.56L201.40 1127.01L202.74 1127.44L204.09 1127.87L205.44 1128.30L206.81 1128.71L208.18 1129.12L209.56 1129.52L210.95 1129.92L212.35 1130.31L213.75 1130.69L215.17 1131.07L216.59 1131.44L218.02 1131.80L219.46 1132.16L220.91 1132.52L222.37 1132.86L223.83 1133.21L225.31 1133.54L226.79 1133.88L228.28 1134.20L229.78 1134.53L231.28 1134.84L232.80 1135.15L234.32 1135.46L235.86 1135.77L237.40 1136.06L238.95 1136.36L240.51 1136.65L242.07 1136.93L243.65 1137.22L245.23 1137.49L246.82 1137.77L248.42 1138.04L250.03 1138.30L251.65 1138.56L253.27 1138.82L254.91 1139.07L256.55 1139.32L258.20 1139.57L259.86 1139.82L261.53 1140.06L263.20 1140.29L264.89 1140.53L266.58 1140.76L268.28 1140.98L269.99 1141.21L271.71 1141.43L273.44 1141.65L275.17 1141.86L276.92 1142.07L278.67 1142.28L280.43 1142.49L282.20 1142.69L283.98 1142.89L285.76 1143.09L287.56 1143.29L289.36 1143.48L291.17 1143.67L292.99 1143.86L294.82 1144.05L296.66 1144.23L298.50 1144.41L300.36 1144.59L302.22 1144.77L304.09 1144.94L305.97 1145.11L307.85 1145.28L309.75 1145.45L311.65 1145.62L313.57 1145.78L315.49 1145.94L317.42 1146.10L319.36 1146.26L321.30 1146.42L323.26 1146.57L325.22 1146.72L327.19 1146.87L329.17 1147.02L331.16 1147.17L333.16 1147.31L335.16 1147.45L337.18 1147.60L339.20 1147.74L341.23 1147.87L343.27 1148.01L345.32 1148.14L347.37 1148.28L349.44 1148.41L351.51 1148.54L353.59 1148.67L355.68 1148.80L357.78 1148.92L359.89 1149.05L362.00 1149.17L364.13 1149.29L366.26 1149.41L368.40 1149.53L370.55 1149.65L372.71 1149.76L374.87 1149.88L377.05 1149.99L379.23 1150.10L381.42 1150.21L383.62 1150.32L385.83 1150.43L388.05 1150.54L390.27 1150.65L392.51 1150.75L394.75 1150.86L397.00 1150.96L399.26 1151.06L401.52 1151.16L403.80 1151.26L406.08 1151.36L408.38 1151.46L410.68 1151.55L412.99 1151.65L415.31 1151.74L417.63 1151.84L419.97 1151.93L422.31 1152.02L424.66 1152.11L427.02 1152.20L429.39 1152.29L431.77 1152.38L434.15 1152.47L436.55 1152.55L438.95 1152.64L441.36 1152.72L443.78 1152.81L446.21 1152.89L448.64 1152.97L451.09 1153.05L453.54 1153.13L456.00 1153.21L458.47 1153.29L460.95 1153.37L463.44 1153.45L465.93 1153.52L468.44 1153.60L470.95 1153.67L473.47 1153.75L476.00 1153.82" stroke="#1a1a1a" stroke-width="1.8" fill="none"/>
<g fill="#1a1a1a"><circle cx="97.0" cy="987.3" r="1.75"/><circle cx="96.5" cy="987.4" r="1.75"/><circle cx="97.5" cy="991.9" r="1.75"/><circle cx="96.9" cy="992.0" r="1.75"/><circle cx="98.0" cy="996.5" r="1.75"/><circle cx="97.4" cy="996.6" r="1.75"/><circle cx="98.6" cy="1001.0" r="1.75"/><circle cx="97.9" cy="1001.1" r="1.75"/><circle cx="99.2" cy="1005.6" r="1.75"/><circle cx="98.5" cy="1005.7" r="1.75"/><circle cx="99.9" cy="1010.1" r="1.75"/><circle cx="99.2" cy="1010.3" r="1.75"/><circle cx="100.7" cy="1014.7" r="1.75"/><circle cx="99.9" cy="1014.8" r="1.75"/><circle cx="101.6" cy="1019.2" r="1.75"/><circle cx="100.7" cy="1019.3" r="1.75"/><circle cx="102.5" cy="1023.7" r="1.75"/><circle cx="101.6" cy="1023.9" r="1.75"/><circle cx="103.6" cy="1028.1" r="1.75"/><circle cx="102.6" cy="1028.4" r="1.75"/><circle cx="104.8" cy="1032.5" r="1.75"/><circle cx="103.8" cy="1032.8" r="1.75"/><circle cx="106.2" cy="1036.9" r="1.75"/><circle cx="105.1" cy="1037.3" r="1.75"/><circle cx="107.7" cy="1041.2" r="1.75"/><circle cx="106.5" cy="1041.7" r="1.75"/><circle cx="109.4" cy="1045.5" r="1.75"/><circle cx="108.1" cy="1046.0" r="1.75"/><circle cx="111.3" cy="1049.6" r="1.75"/><circle cx="110.0" cy="1050.3" r="1.75"/><circle cx="113.4" cy="1053.7" r="1.75"/><circle cx="112.0" cy="1054.4" r="1.75"/><circle cx="115.7" cy="1057.6" r="1.75"/><circle cx="114.3" cy="1058.5" r="1.75"/><circle cx="118.2" cy="1061.4" r="1.75"/><circle cx="116.7" cy="1062.4" r="1.75"/><circle cx="121.0" cy="1065.0" r="1.75"/><circle cx="119.5" cy="1066.2" r="1.75"/><circle cx="123.9" cy="1068.5" r="1.75"/><circle cx="122.4" cy="1069.8" r="1.75"/><circle cx="127.0" cy="1071.8" r="1.75"/><circle cx="125.6" cy="1073.2" r="1.75"/><circle cx="130.4" cy="1074.9" r="1.75"/><circle cx="129.0" cy="1076.4" r="1.75"/><circle cx="133.8" cy="1077.8" r="1.75"/><circle cx="132.5" cy="1079.4" r="1.75"/><circle cx="137.5" cy="1080.5" r="1.75"/><circle cx="136.3" cy="1082.2" r="1.75"/><circle cx="141.2" cy="1083.0" r="1.75"/><circle cx="140.1" cy="1084.8" r="1.75"/><circle cx="145.1" cy="1085.4" r="1.75"/><circle cx="144.1" cy="1087.2" r="1.75"/><circle cx="149.1" cy="1087.6" r="1.75"/><circle cx="148.1" cy="1089.5" r="1.75"/><circle cx="153.2" cy="1089.7" r="1.75"/><circle cx="152.3" cy="1091.6" r="1.75"/><circle cx="157.3" cy="1091.6" r="1.75"/><circle cx="156.5" cy="1093.5" r="1.75"/><circle cx="161.5" cy="1093.5" r="1.75"/><circle cx="160.7" cy="1095.3" r="1.75"/><circle cx="165.8" cy="1095.2" r="1.75"/><circle cx="165.0" cy="1097.0" r="1.75"/><circle cx="170.0" cy="1096.8" r="1.75"/><circle cx="169.4" cy="1098.6" r="1.75"/><circle cx="174.4" cy="1098.3" r="1.75"/><circle cx="173.8" cy="1100.1" r="1.75"/><circle cx="178.7" cy="1099.7" r="1.75"/><circle cx="178.2" cy="1101.5" r="1.75"/><circle cx="183.1" cy="1101.0" r="1.75"/><circle cx="182.6" cy="1102.8" r="1.75"/><circle cx="187.5" cy="1102.3" r="1.75"/><circle cx="187.0" cy="1104.0" r="1.75"/><circle cx="192.0" cy="1103.5" r="1.75"/><circle cx="191.5" cy="1105.2" r="1.75"/><circle cx="196.4" cy="1104.6" r="1.75"/><circle cx="196.0" cy="1106.3" r="1.75"/><circle cx="200.9" cy="1105.7" r="1.75"/><circle cx="200.5" cy="1107.4" r="1.75"/><circle cx="205.3" cy="1106.6" r="1.75"/><circle cx="205.0" cy="1108.4" r="1.75"/><circle cx="209.8" cy="1107.6" r="1.75"/><circle cx="209.5" cy="1109.3" r="1.75"/><circle cx="214.3" cy="1108.5" r="1.75"/><circle cx="214.0" cy="1110.1" r="1.75"/><circle cx="218.9" cy="1109.3" r="1.75"/><circle cx="218.5" cy="1111.0" r="1.75"/><circle cx="223.4" cy="1110.1" r="1.75"/><circle cx="223.1" cy="1111.8" r="1.75"/><circle cx="227.9" cy="1110.9" r="1.75"/><circle cx="227.6" cy="1112.5" r="1.75"/><circle cx="232.4" cy="1111.7" r="1.75"/><circle cx="232.2" cy="1113.3" r="1.75"/><circle cx="237.0" cy="1112.4" r="1.75"/><circle cx="236.7" cy="1114.0" r="1.75"/><circle cx="241.5" cy="1113.1" r="1.75"/><circle cx="241.3" cy="1114.6" r="1.75"/><circle cx="246.1" cy="1113.7" r="1.75"/><circle cx="245.8" cy="1115.3" r="1.75"/><circle cx="250.6" cy="1114.4" r="1.75"/><circle cx="250.4" cy="1115.9" r="1.75"/><circle cx="255.2" cy="1115.0" r="1.75"/><circle cx="255.0" cy="1116.5" r="1.75"/><circle cx="259.7" cy="1115.6" r="1.75"/><circle cx="259.5" cy="1117.1" r="1.75"/><circle cx="264.3" cy="1116.1" r="1.75"/><circle cx="264.1" cy="1117.6" r="1.75"/><circle cx="268.9" cy="1116.7" r="1.75"/><circle cx="268.7" cy="1118.1" r="1.75"/><circle cx="273.4" cy="1117.2" r="1.75"/><circle cx="273.3" cy="1118.7" r="1.75"/><circle cx="278.0" cy="1117.7" r="1.75"/><circle cx="277.8" cy="1119.2" r="1.75"/><circle cx="282.6" cy="1118.2" r="1.75"/><circle cx="282.4" cy="1119.6" r="1.75"/><circle cx="287.1" cy="1118.7" r="1.75"/><circle cx="287.0" cy="1120.1" r="1.75"/><circle cx="291.7" cy="1119.1" r="1.75"/><circle cx="291.6" cy="1120.5" r="1.75"/><circle cx="296.3" cy="1119.6" r="1.75"/><circle cx="296.2" cy="1121.0" r="1.75"/><circle cx="300.9" cy="1120.0" r="1.75"/><circle cx="300.7" cy="1121.4" r="1.75"/><circle cx="305.4" cy="1120.4" r="1.75"/><circle cx="305.3" cy="1121.8" r="1.75"/><circle cx="310.0" cy="1120.9" r="1.75"/><circle cx="309.9" cy="1122.2" r="1.75"/><circle cx="314.6" cy="1121.2" r="1.75"/><circle cx="314.5" cy="1122.6" r="1.75"/><circle cx="319.2" cy="1121.6" r="1.75"/><circle cx="319.1" cy="1123.0" r="1.75"/><circle cx="323.8" cy="1122.0" r="1.75"/><circle cx="323.7" cy="1123.3" r="1.75"/><circle cx="328.4" cy="1122.4" r="1.75"/><circle cx="328.2" cy="1123.7" r="1.75"/><circle cx="332.9" cy="1122.7" r="1.75"/><circle cx="332.8" cy="1124.0" r="1.75"/><circle cx="337.5" cy="1123.1" r="1.75"/><circle cx="337.4" cy="1124.4" r="1.75"/><circle cx="342.1" cy="1123.4" r="1.75"/><circle cx="342.0" cy="1124.7" r="1.75"/><circle cx="346.7" cy="1123.7" r="1.75"/><circle cx="346.6" cy="1125.0" r="1.75"/><circle cx="351.3" cy="1124.1" r="1.75"/><circle cx="351.2" cy="1125.3" r="1.75"/><circle cx="355.9" cy="1124.4" r="1.75"/><circle cx="355.8" cy="1125.6" r="1.75"/><circle cx="360.5" cy="1124.7" r="1.75"/><circle cx="360.4" cy="1125.9" r="1.75"/><circle cx="365.0" cy="1125.0" r="1.75"/><circle cx="365.0" cy="1126.2" r="1.75"/><circle cx="369.6" cy="1125.3" r="1.75"/><circle cx="369.6" cy="1126.5" r="1.75"/><circle cx="374.2" cy="1125.5" r="1.75"/><circle cx="374.2" cy="1126.8" r="1.75"/><circle cx="378.8" cy="1125.8" r="1.75"/><circle cx="378.7" cy="1127.0" r="1.75"/><circle cx="383.4" cy="1126.1" r="1.75"/><circle cx="383.3" cy="1127.3" r="1.75"/><circle cx="388.0" cy="1126.3" r="1.75"/><circle cx="387.9" cy="1127.6" r="1.75"/><circle cx="392.6" cy="1126.6" r="1.75"/><circle cx="392.5" cy="1127.8" r="1.75"/><circle cx="397.2" cy="1126.9" r="1.75"/><circle cx="397.1" cy="1128.0" r="1.75"/><circle cx="401.8" cy="1127.1" r="1.75"/><circle cx="401.7" cy="1128.3" r="1.75"/><circle cx="406.4" cy="1127.3" r="1.75"/><circle cx="406.3" cy="1128.5" r="1.75"/><circle cx="411.0" cy="1127.6" r="1.75"/><circle cx="410.9" cy="1128.7" r="1.75"/><circle cx="415.6" cy="1127.8" r="1.75"/><circle cx="415.5" cy="1129.0" r="1.75"/><circle cx="420.2" cy="1128.0" r="1.75"/><circle cx="420.1" cy="1129.2" r="1.75"/><circle cx="424.7" cy="1128.3" r="1.75"/><circle cx="424.7" cy="1129.4" r="1.75"/><circle cx="429.3" cy="1128.5" r="1.75"/><circle cx="429.3" cy="1129.6" r="1.75"/><circle cx="433.9" cy="1128.7" r="1.75"/><circle cx="433.9" cy="1129.8" r="1.75"/><circle cx="438.5" cy="1128.9" r="1.75"/><circle cx="438.5" cy="1130.0" r="1.75"/><circle cx="443.1" cy="1129.1" r="1.75"/><circle cx="443.1" cy="1130.2" r="1.75"/><circle cx="447.7" cy="1129.3" r="1.75"/><circle cx="447.7" cy="1130.4" r="1.75"/><circle cx="452.3" cy="1129.5" r="1.75"/><circle cx="452.3" cy="1130.6" r="1.75"/><circle cx="456.9" cy="1129.7" r="1.75"/><circle cx="456.9" cy="1130.8" r="1.75"/><circle cx="461.5" cy="1129.9" r="1.75"/><circle cx="461.5" cy="1131.0" r="1.75"/><circle cx="466.1" cy="1130.1" r="1.75"/><circle cx="466.1" cy="1131.2" r="1.75"/><circle cx="470.7" cy="1130.3" r="1.75"/><circle cx="470.7" cy="1131.4" r="1.75"/><circle cx="475.3" cy="1130.5" r="1.75"/><circle cx="475.2" cy="1131.6" r="1.75"/></g>
<path d="M96.75 987.37L96.75 987.41L96.77 987.55L96.79 987.78L96.82 988.09L96.86 988.49L96.90 988.97L96.96 989.54L97.02 990.18L97.09 990.90L97.17 991.68L97.26 992.54L97.36 993.46L97.46 994.44L97.58 995.47L97.70 996.55L97.83 997.68L97.97 998.85L98.12 1000.06L98.27 1001.30L98.44 1002.57L98.61 1003.87L98.79 1005.19L98.98 1006.52L99.18 1007.88L99.38 1009.24L99.60 1010.61L99.82 1011.99L100.05 1013.38L100.29 1014.76L100.54 1016.15L100.80 1017.53L101.07 1018.91L101.34 1020.28L101.62 1021.65L101.91 1023.01L102.21 1024.36L102.52 1025.69L102.83 1027.02L103.16 1028.34L103.49 1029.64L103.83 1030.93L104.18 1032.20L104.54 1033.46L104.91 1034.71L105.28 1035.94L105.67 1037.16L106.06 1038.36L106.46 1039.54L106.87 1040.71L107.28 1041.87L107.71 1043.00L108.14 1044.13L108.59 1045.23L109.04 1046.32L109.50 1047.40L109.96 1048.46L110.44 1049.50L110.93 1050.53L111.42 1051.55L111.92 1052.55L112.43 1053.53L112.95 1054.51L113.47 1055.46L114.01 1056.41L114.55 1057.34L115.11 1058.25L115.67 1059.15L116.24 1060.04L116.81 1060.92L117.40 1061.78L117.99 1062.63L118.59 1063.47L119.21 1064.30L119.83 1065.11L120.45 1065.91L121.09 1066.70L121.73 1067.48L122.39 1068.25L123.05 1069.01L123.72 1069.76L124.40 1070.50L125.08 1071.22L125.78 1071.94L126.48 1072.64L127.20 1073.34L127.92 1074.03L128.64 1074.71L129.38 1075.38L130.13 1076.04L130.88 1076.69L131.65 1077.33L132.42 1077.96L133.20 1078.59L133.98 1079.20L134.78 1079.81L135.59 1080.41L136.40 1081.01L137.22 1081.59L138.05 1082.17L138.89 1082.74L139.74 1083.31L140.59 1083.86L141.46 1084.41L142.33 1084.96L143.21 1085.49L144.10 1086.02L144.99 1086.55L145.90 1087.06L146.82 1087.58L147.74 1088.08L148.67 1088.58L149.61 1089.07L150.56 1089.56L151.51 1090.04L152.48 1090.52L153.45 1090.99L154.43 1091.45L155.42 1091.91L156.42 1092.37L157.43 1092.82L158.45 1093.26L159.47 1093.70L160.50 1094.13L161.54 1094.56L162.59 1094.99L163.65 1095.41L164.72 1095.83L165.79 1096.24L166.87 1096.64L167.96 1097.05L169.06 1097.45L170.17 1097.84L171.29 1098.23L172.41 1098.62L173.55 1099.00L174.69 1099.38L175.84 1099.75L177.00 1100.12L178.17 1100.49L179.34 1100.85L180.53 1101.21L181.72 1101.57L182.92 1101.92L184.13 1102.27L185.35 1102.61L186.57 1102.96L187.81 1103.30L189.05 1103.63L190.30 1103.96L191.56 1104.29L192.83 1104.62L194.11 1104.94L195.39 1105.26L196.69 1105.58L197.99 1105.90L199.30 1106.21L200.62 1106.51L201.95 1106.80L203.28 1107.09L204.63 1107.38L205.98 1107.67L207.34 1107.95L208.71 1108.23L210.09 1108.51L211.47 1108.78L212.87 1109.06L214.27 1109.33L215.68 1109.59L217.10 1109.86L218.53 1110.12L219.97 1110.38L221.41 1110.64L222.87 1110.89L224.33 1111.15L225.80 1111.40L227.28 1111.65L228.77 1111.89L230.26 1112.14L231.77 1112.38L233.28 1112.62L234.80 1112.86L236.33 1113.09L237.87 1113.32L239.42 1113.56L240.97 1113.78L242.53 1114.01L244.11 1114.24L245.69 1114.46L247.27 1114.68L248.87 1114.90L250.48 1115.12L252.09 1115.34L253.71 1115.55L255.34 1115.76L256.98 1115.97L258.63 1116.18L260.29 1116.39L261.95 1116.59L263.62 1116.80L265.31 1117.00L267.00 1117.20L268.69 1117.40L270.40 1117.59L272.12 1117.79L273.84 1117.98L275.57 1118.17L277.31 1118.36L279.06 1118.55L280.82 1118.74L282.58 1118.93L284.36 1119.11L286.14 1119.29L287.93 1119.47L289.73 1119.65L291.54 1119.83L293.35 1120.01L295.18 1120.19L297.01 1120.36L298.85 1120.53L300.70 1120.70L302.56 1120.87L304.43 1121.04L306.30 1121.21L308.19 1121.38L310.08 1121.54L311.98 1121.71L313.89 1121.87L315.80 1122.03L317.73 1122.19L319.66 1122.35L321.61 1122.50L323.56 1122.66L325.52 1122.82L327.49 1122.97L329.46 1123.12L331.45 1123.27L333.44 1123.42L335.44 1123.57L337.45 1123.72L339.47 1123.87L341.50 1124.01L343.53 1124.16L345.58 1124.30L347.63 1124.45L349.69 1124.59L351.76 1124.73L353.84 1124.87L355.92 1125.01L358.02 1125.14L360.12 1125.28L362.23 1125.41L364.35 1125.55L366.48 1125.68L368.61 1125.81L370.76 1125.95L372.91 1126.08L375.07 1126.21L377.24 1126.33L379.42 1126.46L381.61 1126.59L383.80 1126.72L386.01 1126.84L388.22 1126.96L390.44 1127.09L392.67 1127.21L394.91 1127.33L397.15 1127.45L399.41 1127.57L401.67 1127.69L403.94 1127.81L406.22 1127.92L408.51 1128.04L410.81 1128.16L413.11 1128.27L415.43 1128.38L417.75 1128.50L420.08 1128.61L422.42 1128.72L424.76 1128.83L427.12 1128.94L429.48 1129.05L431.86 1129.16L434.24 1129.26L436.63 1129.37L439.02 1129.48L441.43 1129.58L443.84 1129.69L446.27 1129.79L448.70 1129.89L451.14 1129.99L453.59 1130.10L456.04 1130.20L458.51 1130.30L460.98 1130.40L463.46 1130.53L465.95 1130.64L468.45 1130.76L470.96 1130.88L473.48 1131.00L476.00 1131.12" stroke="#1a1a1a" stroke-width="3.6" stroke-dasharray="11 3.2" fill="none"/>
<g fill="#1a1a1a"><circle cx="96.1" cy="1016.5" r="3.8"/><circle cx="111.3" cy="1018.2" r="3.8"/><circle cx="118.3" cy="1020.9" r="3.8"/><circle cx="120.5" cy="1038.7" r="3.8"/><circle cx="126.5" cy="1054.4" r="3.8"/><circle cx="127.1" cy="1059.8" r="3.8"/><circle cx="126.0" cy="1086.9" r="3.8"/><circle cx="126.0" cy="1093.4" r="3.8"/><circle cx="122.8" cy="1071.7" r="3.8"/><circle cx="118.4" cy="1059.8" r="3.8"/><circle cx="113.0" cy="1049.0" r="3.8"/><circle cx="119.5" cy="1040.2" r="3.8"/><circle cx="139.0" cy="1080.4" r="3.8"/><circle cx="144.4" cy="1084.7" r="3.8"/><circle cx="154.2" cy="1088.0" r="3.8"/><circle cx="131.4" cy="1075.0" r="3.8"/><circle cx="147.7" cy="1065.7" r="3.8"/><circle cx="110.2" cy="1045.8" r="3.8"/><circle cx="186.3" cy="1074.4" r="3.8"/><circle cx="198.2" cy="1084.7" r="3.8"/><circle cx="204.2" cy="1089.5" r="3.8"/><circle cx="152.2" cy="1086.2" r="3.8"/><circle cx="158.7" cy="1088.5" r="3.8"/><circle cx="165.2" cy="1090.6" r="3.8"/><circle cx="172.8" cy="1092.8" r="3.8"/><circle cx="180.3" cy="1096.0" r="3.8"/><circle cx="156.5" cy="1095.0" r="3.8"/><circle cx="163.0" cy="1100.4" r="3.8"/><circle cx="152.2" cy="1101.5" r="3.8"/><circle cx="180.3" cy="1104.7" r="3.8"/><circle cx="193.3" cy="1100.4" r="3.8"/><circle cx="195.5" cy="1106.9" r="3.8"/><circle cx="203.1" cy="1104.7" r="3.8"/><circle cx="207.4" cy="1110.1" r="3.8"/><circle cx="195.5" cy="1115.5" r="3.8"/><circle cx="213.5" cy="1099.5" r="3.8"/><circle cx="219.0" cy="1098.6" r="3.8"/><circle cx="225.3" cy="1097.7" r="3.8"/><circle cx="237.0" cy="1101.3" r="3.8"/><circle cx="203.6" cy="1105.9" r="3.8"/><circle cx="205.4" cy="1114.0" r="3.8"/><circle cx="219.9" cy="1109.5" r="3.8"/><circle cx="222.6" cy="1120.3" r="3.8"/><circle cx="231.6" cy="1111.3" r="3.8"/><circle cx="242.4" cy="1107.7" r="3.8"/><circle cx="239.7" cy="1123.0" r="3.8"/><circle cx="246.9" cy="1116.7" r="3.8"/><circle cx="254.2" cy="1115.8" r="3.8"/><circle cx="259.6" cy="1119.4" r="3.8"/><circle cx="263.2" cy="1124.8" r="3.8"/><circle cx="267.7" cy="1113.1" r="3.8"/><circle cx="274.0" cy="1116.7" r="3.8"/><circle cx="279.4" cy="1123.9" r="3.8"/><circle cx="284.8" cy="1114.9" r="3.8"/><circle cx="292.1" cy="1127.5" r="3.8"/><circle cx="294.8" cy="1119.4" r="3.8"/><circle cx="215.8" cy="1113.0" r="3.8"/><circle cx="207.2" cy="1110.8" r="3.8"/><circle cx="232.1" cy="1109.7" r="3.8"/><circle cx="235.3" cy="1116.2" r="3.8"/><circle cx="221.3" cy="1119.5" r="3.8"/><circle cx="253.8" cy="1116.2" r="3.8"/><circle cx="262.4" cy="1111.9" r="3.8"/><circle cx="242.9" cy="1122.7" r="3.8"/><circle cx="257.2" cy="1118.9" r="3.8"/><circle cx="263.7" cy="1114.5" r="3.8"/><circle cx="266.9" cy="1112.4" r="3.8"/><circle cx="263.7" cy="1123.2" r="3.8"/><circle cx="271.3" cy="1121.0" r="3.8"/><circle cx="275.6" cy="1114.5" r="3.8"/><circle cx="258.3" cy="1123.2" r="3.8"/><circle cx="287.5" cy="1114.5" r="3.8"/><circle cx="281.0" cy="1121.0" r="3.8"/><circle cx="279.9" cy="1128.6" r="3.8"/><circle cx="292.9" cy="1128.6" r="3.8"/><circle cx="302.7" cy="1131.3" r="3.8"/><circle cx="292.9" cy="1118.9" r="3.8"/><circle cx="300.5" cy="1121.0" r="3.8"/><circle cx="307.0" cy="1122.1" r="3.8"/><circle cx="313.5" cy="1121.0" r="3.8"/><circle cx="320.1" cy="1126.4" r="3.8"/><circle cx="326.4" cy="1134.0" r="3.8"/><circle cx="335.3" cy="1126.4" r="3.8"/><circle cx="353.0" cy="1135.2" r="3.8"/><circle cx="365.6" cy="1132.7" r="3.8"/><circle cx="371.3" cy="1137.1" r="3.8"/><circle cx="312.5" cy="1122.0" r="3.8"/><circle cx="136.9" cy="1079.8" r="3.8"/><circle cx="142.3" cy="1084.1" r="3.8"/><circle cx="146.7" cy="1087.4" r="3.8"/><circle cx="153.2" cy="1086.3" r="3.8"/><circle cx="157.5" cy="1090.6" r="3.8"/><circle cx="161.8" cy="1089.5" r="3.8"/><circle cx="166.2" cy="1093.9" r="3.8"/><circle cx="171.6" cy="1095.0" r="3.8"/><circle cx="179.2" cy="1100.4" r="3.8"/><circle cx="181.3" cy="1104.7" r="3.8"/><circle cx="157.5" cy="1100.4" r="3.8"/><circle cx="162.9" cy="1102.5" r="3.8"/><circle cx="127.2" cy="1089.5" r="3.8"/><circle cx="128.3" cy="1064.6" r="3.8"/><circle cx="186.1" cy="1075.1" r="3.8"/><circle cx="197.8" cy="1084.1" r="3.8"/><circle cx="151.8" cy="1086.8" r="3.8"/><circle cx="160.8" cy="1088.6" r="3.8"/><circle cx="169.9" cy="1091.3" r="3.8"/><circle cx="177.1" cy="1095.9" r="3.8"/><circle cx="193.3" cy="1099.5" r="3.8"/><circle cx="196.9" cy="1101.3" r="3.8"/><circle cx="213.2" cy="1099.5" r="3.8"/><circle cx="224.9" cy="1097.7" r="3.8"/><circle cx="236.6" cy="1099.5" r="3.8"/><circle cx="193.3" cy="1115.7" r="3.8"/><circle cx="204.2" cy="1110.3" r="3.8"/><circle cx="218.6" cy="1115.7" r="3.8"/><circle cx="222.2" cy="1121.1" r="3.8"/><circle cx="238.4" cy="1115.7" r="3.8"/><circle cx="240.3" cy="1122.9" r="3.8"/><circle cx="245.7" cy="1110.3" r="3.8"/><circle cx="160.8" cy="1101.3" r="3.8"/><circle cx="168.0" cy="1097.7" r="3.8"/><circle cx="153.6" cy="1099.5" r="3.8"/><circle cx="182.5" cy="1104.0" r="3.8"/><circle cx="191.5" cy="1106.7" r="3.8"/><circle cx="200.5" cy="1104.9" r="3.8"/><circle cx="207.8" cy="1108.5" r="3.8"/><circle cx="213.2" cy="1104.9" r="3.8"/><circle cx="225.8" cy="1106.7" r="3.8"/><circle cx="231.2" cy="1112.1" r="3.8"/><circle cx="234.8" cy="1104.9" r="3.8"/><circle cx="245.7" cy="1117.5" r="3.8"/><circle cx="279.7" cy="1128.5" r="3.8"/><circle cx="292.3" cy="1127.6" r="3.8"/><circle cx="321.2" cy="1127.6" r="3.8"/><circle cx="326.6" cy="1133.9" r="3.8"/><circle cx="250.0" cy="1121.2" r="3.8"/><circle cx="268.0" cy="1121.2" r="3.8"/><circle cx="245.0" cy="1111.2" r="3.8"/><circle cx="183.4" cy="1089.8" r="3.8"/><circle cx="195.4" cy="1083.7" r="3.8"/><circle cx="210.0" cy="1088.2" r="3.8"/><circle cx="224.7" cy="1091.0" r="3.8"/><circle cx="199.2" cy="1091.8" r="3.8"/><circle cx="204.6" cy="1094.3" r="3.8"/><circle cx="215.4" cy="1096.7" r="3.8"/><circle cx="223.1" cy="1097.6" r="3.8"/><circle cx="233.9" cy="1096.7" r="3.8"/><circle cx="210.0" cy="1100.0" r="3.8"/><circle cx="218.7" cy="1102.5" r="3.8"/><circle cx="226.4" cy="1104.0" r="3.8"/><circle cx="213.3" cy="1114.3" r="3.8"/><circle cx="220.9" cy="1107.4" r="3.8"/><circle cx="229.6" cy="1108.9" r="3.8"/><circle cx="235.0" cy="1105.7" r="3.8"/><circle cx="234.1" cy="1097.0" r="3.8"/><circle cx="237.4" cy="1100.3" r="3.8"/><circle cx="228.7" cy="1101.5" r="3.8"/><circle cx="234.1" cy="1106.4" r="3.8"/><circle cx="229.8" cy="1111.3" r="3.8"/><circle cx="238.4" cy="1112.1" r="3.8"/><circle cx="246.0" cy="1110.4" r="3.8"/><circle cx="252.6" cy="1115.3" r="3.8"/><circle cx="260.2" cy="1114.6" r="3.8"/><circle cx="234.1" cy="1116.2" r="3.8"/><circle cx="240.6" cy="1117.0" r="3.8"/><circle cx="252.6" cy="1119.5" r="3.8"/><circle cx="258.0" cy="1123.5" r="3.8"/><circle cx="272.1" cy="1112.9" r="3.8"/><circle cx="268.9" cy="1118.6" r="3.8"/><circle cx="276.5" cy="1117.0" r="3.8"/><circle cx="286.3" cy="1112.9" r="3.8"/><circle cx="265.6" cy="1123.5" r="3.8"/><circle cx="276.5" cy="1123.5" r="3.8"/><circle cx="284.1" cy="1121.1" r="3.8"/><circle cx="287.6" cy="1113.3" r="3.8"/><circle cx="280.0" cy="1119.0" r="3.8"/><circle cx="286.5" cy="1118.2" r="3.8"/><circle cx="282.1" cy="1124.7" r="3.8"/><circle cx="291.9" cy="1122.3" r="3.8"/><circle cx="289.7" cy="1127.2" r="3.8"/><circle cx="280.0" cy="1128.8" r="3.8"/><circle cx="316.9" cy="1128.8" r="3.8"/><circle cx="335.9" cy="1128.0" r="3.8"/><circle cx="338.0" cy="1140.0" r="3.8"/><circle cx="335.4" cy="1128.1" r="3.8"/><circle cx="349.4" cy="1132.4" r="3.8"/><circle cx="358.3" cy="1131.0" r="3.8"/><circle cx="360.8" cy="1133.9" r="3.8"/><circle cx="368.5" cy="1128.1" r="3.8"/><circle cx="371.0" cy="1131.0" r="3.8"/><circle cx="383.0" cy="1132.9" r="3.8"/><circle cx="392.5" cy="1135.8" r="3.8"/><circle cx="397.6" cy="1133.9" r="3.8"/><circle cx="393.8" cy="1141.5" r="3.8"/><circle cx="400.2" cy="1138.6" r="3.8"/><circle cx="345.6" cy="1124.4" r="3.8"/><circle cx="398.2" cy="1134.2" r="3.8"/><circle cx="418.5" cy="1142.2" r="3.8"/><circle cx="433.2" cy="1142.2" r="3.8"/><circle cx="468.2" cy="1141.5" r="3.8"/><circle cx="473.9" cy="1147.1" r="3.8"/><circle cx="201.4" cy="1092.7" r="3.8"/><circle cx="207.2" cy="1095.9" r="3.8"/><circle cx="214.4" cy="1099.2" r="3.8"/><circle cx="218.7" cy="1103.6" r="3.8"/><circle cx="215.8" cy="1097.0" r="3.8"/><circle cx="221.7" cy="1099.2" r="3.8"/><circle cx="230.4" cy="1100.3" r="3.8"/><circle cx="234.7" cy="1097.0" r="3.8"/><circle cx="237.6" cy="1100.3" r="3.8"/><circle cx="227.5" cy="1105.7" r="3.8"/><circle cx="233.3" cy="1109.0" r="3.8"/><circle cx="240.5" cy="1111.2" r="3.8"/><circle cx="244.8" cy="1109.0" r="3.8"/><circle cx="249.2" cy="1114.4" r="3.8"/><circle cx="239.0" cy="1115.5" r="3.8"/><circle cx="247.7" cy="1118.8" r="3.8"/><circle cx="197.8" cy="1091.0" r="3.8"/><circle cx="210.0" cy="1098.1" r="3.8"/><circle cx="241.9" cy="1110.3" r="3.8"/><circle cx="249.3" cy="1113.5" r="3.8"/><circle cx="259.4" cy="1115.7" r="3.8"/><circle cx="257.9" cy="1123.3" r="3.8"/><circle cx="266.6" cy="1120.0" r="3.8"/><circle cx="270.9" cy="1113.5" r="3.8"/><circle cx="273.8" cy="1123.3" r="3.8"/><circle cx="278.1" cy="1127.7" r="3.8"/><circle cx="281.1" cy="1117.9" r="3.8"/><circle cx="285.5" cy="1113.5" r="3.8"/><circle cx="286.9" cy="1123.3" r="3.8"/><circle cx="291.2" cy="1126.5" r="3.8"/><circle cx="266.6" cy="1126.5" r="3.8"/><circle cx="252.1" cy="1118.9" r="3.8"/><circle cx="240.5" cy="1115.7" r="3.8"/><circle cx="275.2" cy="1128.7" r="3.8"/><circle cx="284.0" cy="1128.7" r="3.8"/><circle cx="197.0" cy="1087.8" r="3.8"/><circle cx="204.6" cy="1092.7" r="3.8"/><circle cx="207.8" cy="1091.0" r="3.8"/><circle cx="209.5" cy="1089.5" r="3.8"/></g>
</svg>
</body></html>
